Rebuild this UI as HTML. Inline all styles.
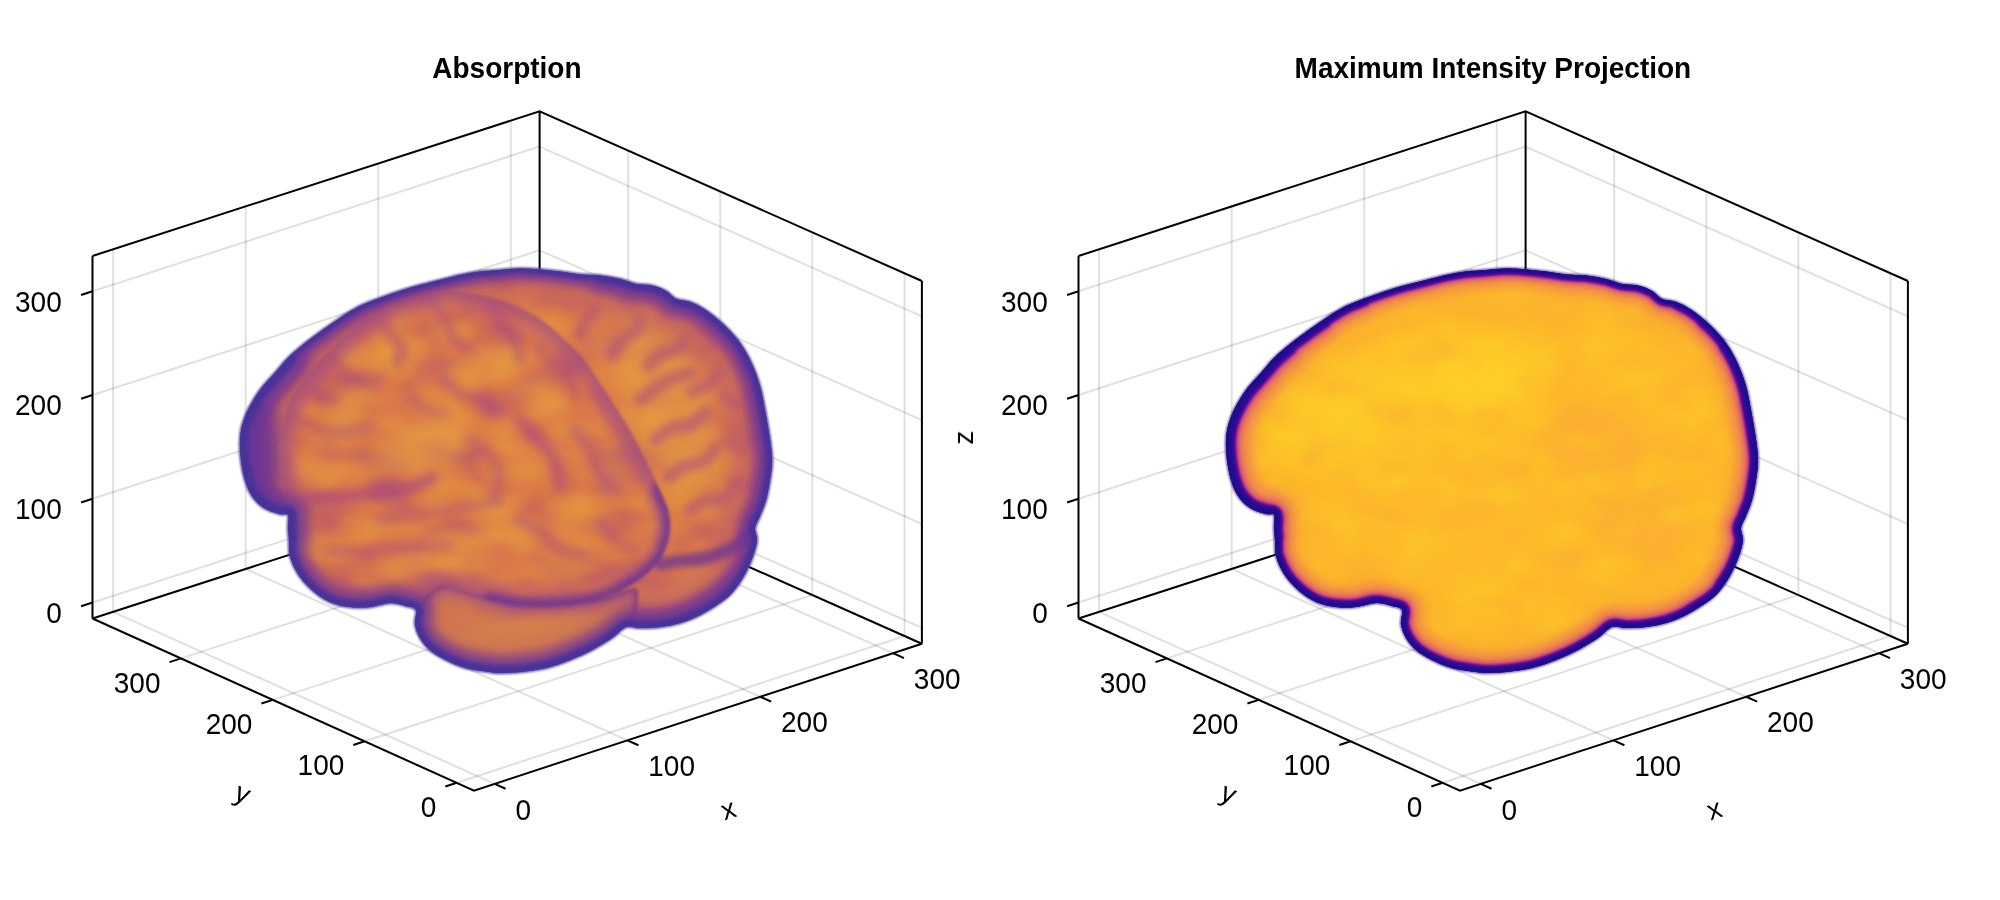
<!DOCTYPE html>
<html><head><meta charset="utf-8"><title>Volume</title>
<style>
html,body{margin:0;padding:0;background:#fff}
svg{display:block}
.g{stroke:#000;stroke-opacity:.12;stroke-width:2;fill:none}
.s{stroke:#000;stroke-width:2;fill:none;stroke-linejoin:miter;stroke-linecap:butt}
.t{stroke:#000;stroke-width:2;fill:none}
text{font-family:"Liberation Sans",sans-serif;fill:#000}
.l{font-size:28px}
.ti{font-size:28px;font-weight:bold}
</style></head><body>
<svg width="2000" height="900" viewBox="0 0 2000 900">
<rect width="2000" height="900" fill="#fff"/>
<defs>
<path id="sil" d="M500.00,270.00 C506.67,269.50 513.33,268.70 520.00,268.60 C526.67,268.50 533.33,268.90 540.00,269.40 C546.67,269.90 553.33,270.77 560.00,271.60 C566.67,272.43 573.33,273.73 580.00,274.40 C586.67,275.07 593.33,274.83 600.00,275.60 C606.67,276.37 614.00,277.60 620.00,279.00 C626.00,280.40 630.67,282.90 636.00,284.00 C641.33,285.10 647.00,284.43 652.00,285.60 C657.00,286.77 662.00,288.77 666.00,291.00 C670.00,293.23 672.00,297.17 676.00,299.00 C680.00,300.83 685.33,300.33 690.00,302.00 C694.67,303.67 699.67,306.33 704.00,309.00 C708.33,311.67 712.00,314.67 716.00,318.00 C720.00,321.33 724.00,324.83 728.00,329.00 C732.00,333.17 736.50,338.17 740.00,343.00 C743.50,347.83 746.33,352.83 749.00,358.00 C751.67,363.17 754.00,368.67 756.00,374.00 C758.00,379.33 759.50,384.00 761.00,390.00 C762.50,396.00 763.75,403.33 765.00,410.00 C766.25,416.67 767.50,423.83 768.50,430.00 C769.50,436.17 770.42,441.50 771.00,447.00 C771.58,452.50 772.17,457.50 772.00,463.00 C771.83,468.50 771.00,473.83 770.00,480.00 C769.00,486.17 767.67,494.00 766.00,500.00 C764.33,506.00 761.83,511.33 760.00,516.00 C758.17,520.67 755.50,524.00 755.00,528.00 C754.50,532.00 757.33,535.33 757.00,540.00 C756.67,544.67 754.83,550.67 753.00,556.00 C751.17,561.33 748.83,566.67 746.00,572.00 C743.17,577.33 739.67,583.33 736.00,588.00 C732.33,592.67 730.00,595.50 724.00,600.00 C718.00,604.50 707.33,611.17 700.00,615.00 C692.67,618.83 686.67,621.00 680.00,623.00 C673.33,625.00 666.67,626.17 660.00,627.00 C653.33,627.83 645.67,628.00 640.00,628.00 C634.33,628.00 630.67,625.33 626.00,627.00 C621.33,628.67 617.67,634.17 612.00,638.00 C606.33,641.83 599.00,646.33 592.00,650.00 C585.00,653.67 577.67,657.00 570.00,660.00 C562.33,663.00 554.33,666.00 546.00,668.00 C537.67,670.00 527.67,671.17 520.00,672.00 C512.33,672.83 505.00,673.00 500.00,673.00 C495.00,673.00 495.67,672.83 490.00,672.00 C484.33,671.17 473.33,670.00 466.00,668.00 C458.67,666.00 452.00,663.00 446.00,660.00 C440.00,657.00 434.33,653.67 430.00,650.00 C425.67,646.33 422.50,642.33 420.00,638.00 C417.50,633.67 415.67,628.67 415.00,624.00 C414.33,619.33 417.50,613.00 416.00,610.00 C414.50,607.00 410.33,607.17 406.00,606.00 C401.67,604.83 396.00,602.83 390.00,603.00 C384.00,603.17 376.67,606.33 370.00,607.00 C363.33,607.67 356.67,607.83 350.00,607.00 C343.33,606.17 336.33,604.83 330.00,602.00 C323.67,599.17 317.33,594.67 312.00,590.00 C306.67,585.33 301.67,579.67 298.00,574.00 C294.33,568.33 291.50,561.67 290.00,556.00 C288.50,550.33 289.33,544.67 289.00,540.00 C288.67,535.33 288.17,532.17 288.00,528.00 C287.83,523.83 289.33,517.33 288.00,515.00 C286.67,512.67 284.00,515.17 280.00,514.00 C276.00,512.83 268.67,511.00 264.00,508.00 C259.33,505.00 255.17,500.67 252.00,496.00 C248.83,491.33 246.83,486.00 245.00,480.00 C243.17,474.00 241.83,466.33 241.00,460.00 C240.17,453.67 239.83,447.67 240.00,442.00 C240.17,436.33 240.50,431.67 242.00,426.00 C243.50,420.33 246.00,414.00 249.00,408.00 C252.00,402.00 255.83,395.67 260.00,390.00 C264.17,384.33 269.33,379.33 274.00,374.00 C278.67,368.67 283.00,363.00 288.00,358.00 C293.00,353.00 298.67,348.33 304.00,344.00 C309.33,339.67 314.00,336.33 320.00,332.00 C326.00,327.67 333.33,322.33 340.00,318.00 C346.67,313.67 353.33,309.33 360.00,306.00 C366.67,302.67 373.33,300.50 380.00,298.00 C386.67,295.50 393.33,293.17 400.00,291.00 C406.67,288.83 413.33,286.83 420.00,285.00 C426.67,283.17 433.33,281.67 440.00,280.00 C446.67,278.33 453.33,276.40 460.00,275.00 C466.67,273.60 473.33,272.43 480.00,271.60 C486.67,270.77 493.33,270.50 500.00,270.00 Z"/>
<clipPath id="clipsil"><use href="#sil"/></clipPath>

<filter id="b1" x="200" y="240" width="620" height="470" filterUnits="userSpaceOnUse"><feGaussianBlur stdDeviation="1"/></filter>
<filter id="b15" x="200" y="240" width="620" height="470" filterUnits="userSpaceOnUse"><feGaussianBlur stdDeviation="1.6"/></filter>
<filter id="b2" x="200" y="240" width="620" height="470" filterUnits="userSpaceOnUse"><feGaussianBlur stdDeviation="2.5"/></filter>
<filter id="b3" x="200" y="240" width="620" height="470" filterUnits="userSpaceOnUse"><feGaussianBlur stdDeviation="3.2"/></filter>
<filter id="b4" x="200" y="240" width="620" height="470" filterUnits="userSpaceOnUse"><feGaussianBlur stdDeviation="4"/></filter>
<filter id="b7" x="200" y="240" width="620" height="470" filterUnits="userSpaceOnUse"><feGaussianBlur stdDeviation="7"/></filter>
<filter id="tex" x="230" y="260" width="560" height="430" filterUnits="userSpaceOnUse" color-interpolation-filters="sRGB">
<feTurbulence type="fractalNoise" baseFrequency="0.017 0.027" numOctaves="2" seed="11" result="n"/>
<feColorMatrix in="n" type="matrix" values="0 0 0 0 0.92  0 0 0 0 0.66  0 0 0 0 0.23  2.6 0 0 0 -1.3" result="br"/>
<feColorMatrix in="n" type="matrix" values="0 0 0 0 0.64  0 0 0 0 0.26  0 0 0 0 0.50  -2.6 0 0 0 1.25" result="dk"/>
<feMerge result="m"><feMergeNode in="br"/><feMergeNode in="dk"/></feMerge>
<feComposite in="m" in2="SourceGraphic" operator="in"/>
</filter>
<filter id="b5" x="200" y="240" width="620" height="470" filterUnits="userSpaceOnUse"><feGaussianBlur stdDeviation="5"/></filter>
<filter id="b10" x="200" y="240" width="620" height="470" filterUnits="userSpaceOnUse"><feGaussianBlur stdDeviation="10"/></filter>
<path id="near" d="M284.00,420.00 C285.67,413.33 286.83,406.67 290.00,400.00 C293.17,393.33 297.67,387.00 303.00,380.00 C308.33,373.00 315.00,365.33 322.00,358.00 C329.00,350.67 337.00,343.00 345.00,336.00 C353.00,329.00 361.67,321.67 370.00,316.00 C378.33,310.33 386.67,305.67 395.00,302.00 C403.33,298.33 411.67,296.00 420.00,294.00 C428.33,292.00 435.83,290.00 445.00,290.00 C454.17,290.00 465.00,292.17 475.00,294.00 C485.00,295.83 496.17,298.00 505.00,301.00 C513.83,304.00 521.17,308.33 528.00,312.00 C534.83,315.67 539.83,318.33 546.00,323.00 C552.17,327.67 559.00,334.33 565.00,340.00 C571.00,345.67 576.17,349.83 582.00,357.00 C587.83,364.17 594.17,374.33 600.00,383.00 C605.83,391.67 611.83,400.83 617.00,409.00 C622.17,417.17 626.17,423.33 631.00,432.00 C635.83,440.67 641.17,451.33 646.00,461.00 C650.83,470.67 656.17,481.33 660.00,490.00 C663.83,498.67 667.33,505.83 669.00,513.00 C670.67,520.17 671.00,526.00 670.00,533.00 C669.00,540.00 666.50,548.50 663.00,555.00 C659.50,561.50 654.83,566.67 649.00,572.00 C643.17,577.33 636.17,582.33 628.00,587.00 C619.83,591.67 611.33,596.83 600.00,600.00 C588.67,603.17 573.33,605.00 560.00,606.00 C546.67,607.00 531.67,607.00 520.00,606.00 C508.33,605.00 499.67,602.50 490.00,600.00 C480.33,597.50 470.33,593.33 462.00,591.00 C453.67,588.67 446.17,585.17 440.00,586.00 C433.83,586.83 429.00,592.33 425.00,596.00 C421.00,599.67 419.17,606.33 416.00,608.00 C412.83,609.67 410.33,606.83 406.00,606.00 C401.67,605.17 396.00,602.83 390.00,603.00 C384.00,603.17 376.67,606.33 370.00,607.00 C363.33,607.67 356.67,607.83 350.00,607.00 C343.33,606.17 336.33,604.83 330.00,602.00 C323.67,599.17 317.33,594.67 312.00,590.00 C306.67,585.33 301.67,579.67 298.00,574.00 C294.33,568.33 291.50,561.67 290.00,556.00 C288.50,550.33 289.33,544.67 289.00,540.00 C288.67,535.33 288.17,532.17 288.00,528.00 C287.83,523.83 288.33,519.67 288.00,515.00 C287.67,510.33 287.17,505.83 286.00,500.00 C284.83,494.17 282.17,486.67 281.00,480.00 C279.83,473.33 279.17,466.67 279.00,460.00 C278.83,453.33 279.17,446.67 280.00,440.00 C280.83,433.33 282.33,426.67 284.00,420.00 Z"/>
<clipPath id="clipnear"><use href="#near"/></clipPath>
<path id="cere" d="M416.00,606.00 C411.83,612.67 414.33,618.67 415.00,624.00 C415.67,629.33 417.50,633.67 420.00,638.00 C422.50,642.33 425.67,646.33 430.00,650.00 C434.33,653.67 440.00,657.00 446.00,660.00 C452.00,663.00 458.67,666.00 466.00,668.00 C473.33,670.00 482.00,671.33 490.00,672.00 C498.00,672.67 505.67,672.50 514.00,672.00 C522.33,671.50 531.33,670.67 540.00,669.00 C548.67,667.33 557.67,664.83 566.00,662.00 C574.33,659.17 582.67,655.33 590.00,652.00 C597.33,648.67 604.33,645.33 610.00,642.00 C615.67,638.67 620.00,636.00 624.00,632.00 C628.00,628.00 631.67,623.00 634.00,618.00 C636.33,613.00 638.00,607.00 638.00,602.00 C638.00,597.00 640.33,588.67 634.00,588.00 C627.67,587.33 612.33,595.50 600.00,598.00 C587.67,600.50 573.33,602.17 560.00,603.00 C546.67,603.83 531.67,604.00 520.00,603.00 C508.33,602.00 499.67,599.50 490.00,597.00 C480.33,594.50 470.33,590.17 462.00,588.00 C453.67,585.83 447.67,581.00 440.00,584.00 C432.33,587.00 420.17,599.33 416.00,606.00 Z"/>
<clipPath id="clipcere"><use href="#cere"/></clipPath>

<filter id="texr" x="230" y="260" width="560" height="430" filterUnits="userSpaceOnUse" color-interpolation-filters="sRGB">
<feTurbulence type="fractalNoise" baseFrequency="0.02 0.03" numOctaves="2" seed="5" result="n"/>
<feColorMatrix in="n" type="matrix" values="0 0 0 0 0.99  0 0 0 0 0.83  0 0 0 0 0.15  2.4 0 0 0 -1.2" result="br"/>
<feColorMatrix in="n" type="matrix" values="0 0 0 0 0.975  0 0 0 0 0.65  0 0 0 0 0.21  -2.4 0 0 0 1.15" result="dk"/>
<feMerge result="m"><feMergeNode in="br"/><feMergeNode in="dk"/></feMerge>
<feComposite in="m" in2="SourceGraphic" operator="in"/>
</filter>

</defs>
<g id="axL">
<path class="g" d="M494.60,783.84 L113.07,611.85"/>
<path class="g" d="M113.07,611.85 L113.07,249.34"/>
<path class="g" d="M627.45,740.29 L245.68,568.94"/>
<path class="g" d="M245.68,568.94 L245.68,206.41"/>
<path class="g" d="M760.21,696.76 L378.20,526.07"/>
<path class="g" d="M378.20,526.07 L378.20,163.50"/>
<path class="g" d="M893.06,653.21 L510.81,483.17"/>
<path class="g" d="M510.81,483.17 L510.81,120.57"/>
<path class="g" d="M456.72,782.80 L904.58,636.05"/>
<path class="g" d="M904.58,636.05 L904.58,273.31"/>
<path class="g" d="M364.70,741.29 L812.37,595.07"/>
<path class="g" d="M812.37,595.07 L812.37,232.37"/>
<path class="g" d="M272.80,699.83 L720.27,554.14"/>
<path class="g" d="M720.27,554.14 L720.27,191.47"/>
<path class="g" d="M180.89,658.38 L628.18,513.22"/>
<path class="g" d="M628.18,513.22 L628.18,150.58"/>
<path class="g" d="M92.50,602.51 L539.60,457.86"/>
<path class="g" d="M921.90,627.75 L539.60,457.86"/>
<path class="g" d="M92.50,498.80 L539.60,354.12"/>
<path class="g" d="M921.90,523.97 L539.60,354.12"/>
<path class="g" d="M92.50,395.02 L539.60,250.31"/>
<path class="g" d="M921.90,420.11 L539.60,250.31"/>
<path class="g" d="M92.50,291.31 L539.60,146.57"/>
<path class="g" d="M921.90,316.33 L539.60,146.57"/>
<path class="s" d="M92.50,256.00 L539.60,111.25 L921.90,281.00 M539.60,111.25 L539.60,473.85 M92.50,618.50 L539.60,473.85 L921.90,643.75 M92.50,256.00 L92.50,618.50"/><path class="s" d="M921.90,281.00 L921.90,643.75"/>
</g>
<use href="#axL" x="986"/>
<g id="brainL">

<use href="#sil" fill="none" stroke="#6b5aa6" stroke-width="2.4" filter="url(#b1)" opacity=".5"/>
<g>
<g clip-path="url(#clipsil)">
<use href="#sil" fill="#dc7a49"/>
<use href="#sil" fill="#000" filter="url(#tex)" opacity=".5"/>
<g filter="url(#b10)">
<ellipse cx="662" cy="395" rx="42" ry="85" fill="#e69f40" opacity="0.55" transform="rotate(-18 662 395)"/>
<ellipse cx="700" cy="475" rx="34" ry="44" fill="#e29a40" opacity="0.4" transform="rotate(0 700 475)"/>
</g><g filter="url(#b7)">
<ellipse cx="600" cy="346" rx="14" ry="10" fill="#e69f40" opacity="0.34" transform="rotate(0 600 346)"/>
<ellipse cx="632" cy="372" rx="16" ry="12" fill="#e69f40" opacity="0.41" transform="rotate(0 632 372)"/>
<ellipse cx="638" cy="344" rx="12" ry="14" fill="#e69f40" opacity="0.34" transform="rotate(0 638 344)"/>
<ellipse cx="672" cy="362" rx="16" ry="12" fill="#e69f40" opacity="0.38" transform="rotate(0 672 362)"/>
<ellipse cx="660" cy="420" rx="14" ry="22" fill="#e69f40" opacity="0.34" transform="rotate(-10 660 420)"/>
<ellipse cx="700" cy="420" rx="14" ry="20" fill="#e69f40" opacity="0.3" transform="rotate(-10 700 420)"/>
<ellipse cx="690" cy="470" rx="16" ry="18" fill="#e69f40" opacity="0.3" transform="rotate(0 690 470)"/>
<ellipse cx="640" cy="318" rx="20" ry="8" fill="#e69f40" opacity="0.27" transform="rotate(20 640 318)"/>
</g><g filter="url(#b4)">
<path d="M580.00,334.00 C581.00,331.67 583.33,324.00 586.00,320.00 C588.67,316.00 594.33,311.67 596.00,310.00 " fill="none" stroke="#b04d7a" stroke-width="13" stroke-linecap="round" opacity="0.62"/>
<path d="M612.00,356.00 C613.33,353.50 616.00,345.17 620.00,341.00 C624.00,336.83 632.50,335.17 636.00,331.00 C639.50,326.83 640.17,318.50 641.00,316.00 " fill="none" stroke="#b04d7a" stroke-width="13" stroke-linecap="round" opacity="0.62"/>
<path d="M648.00,366.00 C650.00,364.17 655.33,357.83 660.00,355.00 C664.67,352.17 671.50,352.17 676.00,349.00 C680.50,345.83 685.17,338.17 687.00,336.00 " fill="none" stroke="#b04d7a" stroke-width="13" stroke-linecap="round" opacity="0.62"/>
<path d="M640.00,400.00 C642.67,398.00 650.83,391.50 656.00,388.00 C661.17,384.50 665.17,381.50 671.00,379.00 C676.83,376.50 687.67,374.00 691.00,373.00 " fill="none" stroke="#b04d7a" stroke-width="13" stroke-linecap="round" opacity="0.62"/>
<path d="M700.00,330.00 C702.00,331.67 710.00,338.33 712.00,340.00 " fill="none" stroke="#b04d7a" stroke-width="13" stroke-linecap="round" opacity="0.62"/>
<path d="M692.00,392.00 C695.00,390.50 705.17,386.67 710.00,383.00 C714.83,379.33 719.17,372.17 721.00,370.00 " fill="none" stroke="#b04d7a" stroke-width="13" stroke-linecap="round" opacity="0.62"/>
<path d="M655.00,440.00 C657.83,438.00 666.17,430.50 672.00,428.00 C677.83,425.50 684.33,427.67 690.00,425.00 C695.67,422.33 703.33,414.17 706.00,412.00 " fill="none" stroke="#b04d7a" stroke-width="13" stroke-linecap="round" opacity="0.62"/>
<path d="M668.00,478.00 C670.67,476.00 678.33,468.67 684.00,466.00 C689.67,463.33 696.67,465.00 702.00,462.00 C707.33,459.00 713.67,450.33 716.00,448.00 " fill="none" stroke="#b04d7a" stroke-width="13" stroke-linecap="round" opacity="0.62"/>
<path d="M725.00,395.00 C727.17,396.67 734.17,404.17 738.00,405.00 C741.83,405.83 746.33,400.83 748.00,400.00 " fill="none" stroke="#b04d7a" stroke-width="13" stroke-linecap="round" opacity="0.62"/>
<path d="M728.00,440.00 C730.33,441.00 738.00,446.00 742.00,446.00 C746.00,446.00 750.33,441.00 752.00,440.00 " fill="none" stroke="#b04d7a" stroke-width="13" stroke-linecap="round" opacity="0.62"/>
<path d="M690.00,510.00 C692.67,508.33 700.67,501.67 706.00,500.00 C711.33,498.33 717.33,502.00 722.00,500.00 C726.67,498.00 732.00,490.00 734.00,488.00 " fill="none" stroke="#b04d7a" stroke-width="13" stroke-linecap="round" opacity="0.62"/>
<path d="M735.00,480.00 C737.17,481.00 744.17,486.00 748.00,486.00 C751.83,486.00 756.33,481.00 758.00,480.00 " fill="none" stroke="#b04d7a" stroke-width="13" stroke-linecap="round" opacity="0.62"/>
<path d="M620.00,296.00 C621.67,297.50 628.33,303.50 630.00,305.00 " fill="none" stroke="#b04d7a" stroke-width="13" stroke-linecap="round" opacity="0.62"/>
<path d="M660.00,305.00 C661.33,306.83 666.67,314.17 668.00,316.00 " fill="none" stroke="#b04d7a" stroke-width="13" stroke-linecap="round" opacity="0.62"/>
</g>
<g filter="url(#b5)">
<ellipse cx="525" cy="632" rx="75" ry="14" fill="#e29a40" opacity="0.65" transform="rotate(-8 525 632)"/>
<ellipse cx="520" cy="655" rx="60" ry="8" fill="#dd8f45" opacity="0.4" transform="rotate(-6 520 655)"/>
<ellipse cx="700" cy="585" rx="38" ry="14" fill="#e29a40" opacity="0.6" transform="rotate(-25 700 585)"/>
</g>
<g filter="url(#b10)" opacity="0.68" fill="none" stroke="#c06064" stroke-linecap="round"><use href="#sil" stroke-width="60"/><path d="M289.00,540.00 C288.83,538.00 288.17,532.17 288.00,528.00 C287.83,523.83 289.33,517.33 288.00,515.00 C286.67,512.67 284.00,515.17 280.00,514.00 C276.00,512.83 268.67,511.00 264.00,508.00 C259.33,505.00 255.17,500.67 252.00,496.00 C248.83,491.33 246.83,486.00 245.00,480.00 C243.17,474.00 241.83,466.33 241.00,460.00 C240.17,453.67 239.83,447.67 240.00,442.00 C240.17,436.33 240.50,431.67 242.00,426.00 C243.50,420.33 246.00,414.00 249.00,408.00 C252.00,402.00 255.83,395.67 260.00,390.00 C264.17,384.33 269.33,379.33 274.00,374.00 C278.67,368.67 285.67,360.67 288.00,358.00 " stroke-width="96"/><path d="M600.00,275.60 C603.33,276.17 614.00,277.60 620.00,279.00 C626.00,280.40 630.67,282.90 636.00,284.00 C641.33,285.10 647.00,284.43 652.00,285.60 C657.00,286.77 662.00,288.77 666.00,291.00 C670.00,293.23 672.00,297.17 676.00,299.00 C680.00,300.83 685.33,300.33 690.00,302.00 C694.67,303.67 699.67,306.33 704.00,309.00 C708.33,311.67 712.00,314.67 716.00,318.00 C720.00,321.33 724.00,324.83 728.00,329.00 C732.00,333.17 736.50,338.17 740.00,343.00 C743.50,347.83 746.33,352.83 749.00,358.00 C751.67,363.17 754.00,368.67 756.00,374.00 C758.00,379.33 759.50,384.00 761.00,390.00 C762.50,396.00 763.75,403.33 765.00,410.00 C766.25,416.67 767.50,423.83 768.50,430.00 C769.50,436.17 770.42,441.50 771.00,447.00 C771.58,452.50 772.17,457.50 772.00,463.00 C771.83,468.50 771.00,473.83 770.00,480.00 C769.00,486.17 767.67,494.00 766.00,500.00 C764.33,506.00 761.83,511.33 760.00,516.00 C758.17,520.67 755.50,524.00 755.00,528.00 C754.50,532.00 757.33,535.33 757.00,540.00 C756.67,544.67 754.83,550.67 753.00,556.00 C751.17,561.33 748.83,566.67 746.00,572.00 C743.17,577.33 739.67,583.33 736.00,588.00 C732.33,592.67 726.00,598.00 724.00,600.00 " stroke-width="80"/><path d="M736.00,588.00 C734.00,590.00 730.00,595.50 724.00,600.00 C718.00,604.50 707.33,611.17 700.00,615.00 C692.67,618.83 686.67,621.00 680.00,623.00 C673.33,625.00 666.67,626.17 660.00,627.00 C653.33,627.83 645.67,628.00 640.00,628.00 C634.33,628.00 630.67,625.33 626.00,627.00 C621.33,628.67 617.67,634.17 612.00,638.00 C606.33,641.83 599.00,646.33 592.00,650.00 C585.00,653.67 577.67,657.00 570.00,660.00 C562.33,663.00 554.33,666.00 546.00,668.00 C537.67,670.00 527.67,671.17 520.00,672.00 C512.33,672.83 505.00,673.00 500.00,673.00 C495.00,673.00 495.67,672.83 490.00,672.00 C484.33,671.17 473.33,670.00 466.00,668.00 C458.67,666.00 452.00,663.00 446.00,660.00 C440.00,657.00 434.33,653.67 430.00,650.00 C425.67,646.33 422.50,642.33 420.00,638.00 C417.50,633.67 415.67,628.67 415.00,624.00 C414.33,619.33 417.50,613.00 416.00,610.00 C414.50,607.00 410.33,607.17 406.00,606.00 C401.67,604.83 396.00,602.83 390.00,603.00 C384.00,603.17 376.67,606.33 370.00,607.00 C363.33,607.67 356.67,607.83 350.00,607.00 C343.33,606.17 336.33,604.83 330.00,602.00 C323.67,599.17 317.33,594.67 312.00,590.00 C306.67,585.33 301.67,579.67 298.00,574.00 C294.33,568.33 291.50,561.67 290.00,556.00 C288.50,550.33 289.33,544.67 289.00,540.00 C288.67,535.33 288.17,530.00 288.00,528.00 " stroke-width="86"/></g><g filter="url(#b5)" opacity="0.85" fill="none" stroke="#8f3d8c" stroke-linecap="round"><use href="#sil" stroke-width="24"/><path d="M289.00,540.00 C288.83,538.00 288.17,532.17 288.00,528.00 C287.83,523.83 289.33,517.33 288.00,515.00 C286.67,512.67 284.00,515.17 280.00,514.00 C276.00,512.83 268.67,511.00 264.00,508.00 C259.33,505.00 255.17,500.67 252.00,496.00 C248.83,491.33 246.83,486.00 245.00,480.00 C243.17,474.00 241.83,466.33 241.00,460.00 C240.17,453.67 239.83,447.67 240.00,442.00 C240.17,436.33 240.50,431.67 242.00,426.00 C243.50,420.33 246.00,414.00 249.00,408.00 C252.00,402.00 255.83,395.67 260.00,390.00 C264.17,384.33 269.33,379.33 274.00,374.00 C278.67,368.67 285.67,360.67 288.00,358.00 " stroke-width="46"/><path d="M600.00,275.60 C603.33,276.17 614.00,277.60 620.00,279.00 C626.00,280.40 630.67,282.90 636.00,284.00 C641.33,285.10 647.00,284.43 652.00,285.60 C657.00,286.77 662.00,288.77 666.00,291.00 C670.00,293.23 672.00,297.17 676.00,299.00 C680.00,300.83 685.33,300.33 690.00,302.00 C694.67,303.67 699.67,306.33 704.00,309.00 C708.33,311.67 712.00,314.67 716.00,318.00 C720.00,321.33 724.00,324.83 728.00,329.00 C732.00,333.17 736.50,338.17 740.00,343.00 C743.50,347.83 746.33,352.83 749.00,358.00 C751.67,363.17 754.00,368.67 756.00,374.00 C758.00,379.33 759.50,384.00 761.00,390.00 C762.50,396.00 763.75,403.33 765.00,410.00 C766.25,416.67 767.50,423.83 768.50,430.00 C769.50,436.17 770.42,441.50 771.00,447.00 C771.58,452.50 772.17,457.50 772.00,463.00 C771.83,468.50 771.00,473.83 770.00,480.00 C769.00,486.17 767.67,494.00 766.00,500.00 C764.33,506.00 761.83,511.33 760.00,516.00 C758.17,520.67 755.50,524.00 755.00,528.00 C754.50,532.00 757.33,535.33 757.00,540.00 C756.67,544.67 754.83,550.67 753.00,556.00 C751.17,561.33 748.83,566.67 746.00,572.00 C743.17,577.33 739.67,583.33 736.00,588.00 C732.33,592.67 726.00,598.00 724.00,600.00 " stroke-width="36"/><path d="M736.00,588.00 C734.00,590.00 730.00,595.50 724.00,600.00 C718.00,604.50 707.33,611.17 700.00,615.00 C692.67,618.83 686.67,621.00 680.00,623.00 C673.33,625.00 666.67,626.17 660.00,627.00 C653.33,627.83 645.67,628.00 640.00,628.00 C634.33,628.00 630.67,625.33 626.00,627.00 C621.33,628.67 617.67,634.17 612.00,638.00 C606.33,641.83 599.00,646.33 592.00,650.00 C585.00,653.67 577.67,657.00 570.00,660.00 C562.33,663.00 554.33,666.00 546.00,668.00 C537.67,670.00 527.67,671.17 520.00,672.00 C512.33,672.83 505.00,673.00 500.00,673.00 C495.00,673.00 495.67,672.83 490.00,672.00 C484.33,671.17 473.33,670.00 466.00,668.00 C458.67,666.00 452.00,663.00 446.00,660.00 C440.00,657.00 434.33,653.67 430.00,650.00 C425.67,646.33 422.50,642.33 420.00,638.00 C417.50,633.67 415.67,628.67 415.00,624.00 C414.33,619.33 417.50,613.00 416.00,610.00 C414.50,607.00 410.33,607.17 406.00,606.00 C401.67,604.83 396.00,602.83 390.00,603.00 C384.00,603.17 376.67,606.33 370.00,607.00 C363.33,607.67 356.67,607.83 350.00,607.00 C343.33,606.17 336.33,604.83 330.00,602.00 C323.67,599.17 317.33,594.67 312.00,590.00 C306.67,585.33 301.67,579.67 298.00,574.00 C294.33,568.33 291.50,561.67 290.00,556.00 C288.50,550.33 289.33,544.67 289.00,540.00 C288.67,535.33 288.17,530.00 288.00,528.00 " stroke-width="40"/></g>
<g filter="url(#b10)"><ellipse cx="256" cy="455" rx="26" ry="62" fill="#6f3596" opacity=".9"/>
<ellipse cx="330" cy="330" rx="70" ry="16" fill="#8a4090" opacity=".35" transform="rotate(-35 330 330)"/></g>
<path d="M762.00,520.00 C760.00,522.33 754.50,529.67 750.00,534.00 C745.50,538.33 740.33,542.67 735.00,546.00 C729.67,549.33 723.83,551.83 718.00,554.00 C712.17,556.17 706.33,557.83 700.00,559.00 C693.67,560.17 686.67,560.17 680.00,561.00 C673.33,561.83 663.33,563.50 660.00,564.00 " fill="none" stroke="#6a3296" stroke-width="13" opacity=".75" filter="url(#b3)" stroke-linecap="round"/>
<g filter="url(#b15)"><g clip-path="url(#clipcere)" opacity=".9">
<use href="#cere" fill="#d4824c" opacity=".55"/>
<use href="#cere" fill="none" stroke="#a04888" stroke-width="24" filter="url(#b5)" opacity=".6"/>
<use href="#cere" fill="none" stroke="#5a2c92" stroke-width="9" filter="url(#b2)" opacity=".55"/>
</g></g>
<g filter="url(#b15)"><g clip-path="url(#clipnear)">
<use href="#near" fill="#d9774b" opacity=".45"/>
<use href="#near" fill="#000" filter="url(#tex)" opacity=".5"/>
<g filter="url(#b7)">
<ellipse cx="425" cy="448" rx="44" ry="24" fill="#e69f40" opacity="0.58" transform="rotate(-15 425 448)"/>
<ellipse cx="480" cy="368" rx="40" ry="18" fill="#e69f40" opacity="0.47" transform="rotate(-20 480 368)"/>
<ellipse cx="352" cy="402" rx="30" ry="14" fill="#e69f40" opacity="0.43" transform="rotate(-30 352 402)"/>
<ellipse cx="400" cy="360" rx="28" ry="12" fill="#e69f40" opacity="0.39" transform="rotate(-25 400 360)"/>
<ellipse cx="540" cy="395" rx="28" ry="16" fill="#e69f40" opacity="0.39" transform="rotate(20 540 395)"/>
<ellipse cx="350" cy="470" rx="40" ry="12" fill="#e69f40" opacity="0.35" transform="rotate(-8 350 470)"/>
<ellipse cx="470" cy="540" rx="70" ry="9" fill="#e69f40" opacity="0.51" transform="rotate(-8 470 540)"/>
<ellipse cx="430" cy="565" rx="55" ry="8" fill="#e69f40" opacity="0.43" transform="rotate(-5 430 565)"/>
<ellipse cx="580" cy="520" rx="30" ry="22" fill="#e69f40" opacity="0.35" transform="rotate(0 580 520)"/>
<ellipse cx="560" cy="570" rx="40" ry="12" fill="#e69f40" opacity="0.35" transform="rotate(-10 560 570)"/>
<ellipse cx="520" cy="470" rx="22" ry="14" fill="#e69f40" opacity="0.35" transform="rotate(0 520 470)"/>
<ellipse cx="610" cy="470" rx="18" ry="30" fill="#e69f40" opacity="0.31" transform="rotate(-15 610 470)"/>
<ellipse cx="450" cy="330" rx="26" ry="10" fill="#e69f40" opacity="0.31" transform="rotate(-15 450 330)"/>
<ellipse cx="330" cy="440" rx="26" ry="12" fill="#e69f40" opacity="0.31" transform="rotate(-10 330 440)"/>
<ellipse cx="500" cy="430" rx="22" ry="12" fill="#e69f40" opacity="0.31" transform="rotate(10 500 430)"/>
<ellipse cx="380" cy="530" rx="40" ry="8" fill="#e69f40" opacity="0.31" transform="rotate(-6 380 530)"/>
</g><g filter="url(#b4)">
<path d="M288.00,502.00 C291.67,501.67 302.17,500.83 310.00,500.00 C317.83,499.17 326.67,497.83 335.00,497.00 C343.33,496.17 351.67,495.67 360.00,495.00 C368.33,494.33 376.67,494.17 385.00,493.00 C393.33,491.83 402.17,490.50 410.00,488.00 C417.83,485.50 428.33,479.67 432.00,478.00 " fill="none" stroke="#b04d7a" stroke-width="13" stroke-linecap="round" opacity="0.75"/>
<path d="M378.00,318.00 C380.33,320.83 388.00,330.00 392.00,335.00 C396.00,340.00 401.00,343.50 402.00,348.00 C403.00,352.50 398.67,359.67 398.00,362.00 " fill="none" stroke="#b04d7a" stroke-width="12" stroke-linecap="round" opacity="0.55"/>
<path d="M330.00,355.00 C332.50,357.83 339.67,367.83 345.00,372.00 C350.33,376.17 356.17,379.00 362.00,380.00 C367.83,381.00 377.00,378.33 380.00,378.00 " fill="none" stroke="#b04d7a" stroke-width="12" stroke-linecap="round" opacity="0.5"/>
<path d="M430.00,300.00 C432.50,303.33 440.83,313.33 445.00,320.00 C449.17,326.67 450.83,335.00 455.00,340.00 C459.17,345.00 467.50,348.33 470.00,350.00 " fill="none" stroke="#b04d7a" stroke-width="12" stroke-linecap="round" opacity="0.5"/>
<path d="M490.00,305.00 C491.67,308.33 495.83,319.17 500.00,325.00 C504.17,330.83 511.67,334.17 515.00,340.00 C518.33,345.83 519.17,356.67 520.00,360.00 " fill="none" stroke="#b04d7a" stroke-width="12" stroke-linecap="round" opacity="0.5"/>
<path d="M445.00,380.00 C447.83,382.50 456.17,392.00 462.00,395.00 C467.83,398.00 474.00,395.50 480.00,398.00 C486.00,400.50 495.00,408.00 498.00,410.00 " fill="none" stroke="#b04d7a" stroke-width="12" stroke-linecap="round" opacity="0.5"/>
<path d="M300.00,420.00 C303.33,421.67 312.50,428.00 320.00,430.00 C327.50,432.00 336.33,432.83 345.00,432.00 C353.67,431.17 367.50,426.17 372.00,425.00 " fill="none" stroke="#b04d7a" stroke-width="12" stroke-linecap="round" opacity="0.45"/>
<path d="M540.00,345.00 C542.00,348.33 547.00,360.00 552.00,365.00 C557.00,370.00 566.17,370.00 570.00,375.00 C573.83,380.00 574.17,391.67 575.00,395.00 " fill="none" stroke="#b04d7a" stroke-width="12" stroke-linecap="round" opacity="0.45"/>
<path d="M520.00,420.00 C523.33,423.33 534.17,433.00 540.00,440.00 C545.83,447.00 551.67,454.50 555.00,462.00 C558.33,469.50 559.17,481.17 560.00,485.00 " fill="none" stroke="#b04d7a" stroke-width="15" stroke-linecap="round" opacity="0.6"/>
<path d="M575.00,430.00 C577.50,433.33 585.83,442.50 590.00,450.00 C594.17,457.50 595.83,468.33 600.00,475.00 C604.17,481.67 612.50,487.50 615.00,490.00 " fill="none" stroke="#b04d7a" stroke-width="12" stroke-linecap="round" opacity="0.5"/>
<path d="M470.00,440.00 C473.33,442.50 485.00,449.17 490.00,455.00 C495.00,460.83 499.17,468.33 500.00,475.00 C500.83,481.67 495.83,491.67 495.00,495.00 " fill="none" stroke="#b04d7a" stroke-width="12" stroke-linecap="round" opacity="0.45"/>
<path d="M380.00,520.00 C386.67,519.17 406.67,517.00 420.00,515.00 C433.33,513.00 446.67,510.17 460.00,508.00 C473.33,505.83 493.33,503.00 500.00,502.00 " fill="none" stroke="#b04d7a" stroke-width="11" stroke-linecap="round" opacity="0.45"/>
<path d="M330.00,550.00 C336.67,550.33 356.67,552.33 370.00,552.00 C383.33,551.67 396.67,549.17 410.00,548.00 C423.33,546.83 443.33,545.50 450.00,545.00 " fill="none" stroke="#b04d7a" stroke-width="10" stroke-linecap="round" opacity="0.45"/>
<path d="M520.00,520.00 C524.17,522.50 538.33,530.00 545.00,535.00 C551.67,540.00 553.33,546.67 560.00,550.00 C566.67,553.33 580.83,554.17 585.00,555.00 " fill="none" stroke="#b04d7a" stroke-width="12" stroke-linecap="round" opacity="0.45"/>
<path d="M600.00,520.00 C602.50,523.33 609.17,535.00 615.00,540.00 C620.83,545.00 631.67,548.33 635.00,550.00 " fill="none" stroke="#b04d7a" stroke-width="12" stroke-linecap="round" opacity="0.45"/>
<path d="M340.00,580.00 C342.50,581.67 349.17,588.00 355.00,590.00 C360.83,592.00 371.67,591.67 375.00,592.00 " fill="none" stroke="#b04d7a" stroke-width="12" stroke-linecap="round" opacity="0.5"/>
<path d="M470.00,575.00 C475.00,576.67 490.00,583.33 500.00,585.00 C510.00,586.67 525.00,585.00 530.00,585.00 " fill="none" stroke="#b04d7a" stroke-width="10" stroke-linecap="round" opacity="0.4"/>
<path d="M310.00,385.00 C312.00,387.17 317.83,395.50 322.00,398.00 C326.17,400.50 332.83,399.67 335.00,400.00 " fill="none" stroke="#b04d7a" stroke-width="11" stroke-linecap="round" opacity="0.45"/>
<path d="M410.00,395.00 C412.50,397.50 419.17,407.17 425.00,410.00 C430.83,412.83 441.67,411.67 445.00,412.00 " fill="none" stroke="#b04d7a" stroke-width="11" stroke-linecap="round" opacity="0.4"/>
<path d="M600.00,400.00 C602.00,403.33 607.83,414.17 612.00,420.00 C616.17,425.83 622.83,432.50 625.00,435.00 " fill="none" stroke="#b04d7a" stroke-width="11" stroke-linecap="round" opacity="0.4"/>
</g>
<use href="#near" fill="none" stroke="#b4547c" stroke-width="32" filter="url(#b5)" opacity=".6"/>
<use href="#near" fill="none" stroke="#7e3a8e" stroke-width="13" filter="url(#b4)" opacity=".3"/>
<path d="M660.00,490.00 C661.50,493.83 667.33,505.83 669.00,513.00 C670.67,520.17 671.00,526.00 670.00,533.00 C669.00,540.00 666.50,548.50 663.00,555.00 C659.50,561.50 654.83,566.67 649.00,572.00 C643.17,577.33 636.17,582.33 628.00,587.00 C619.83,591.67 611.33,596.83 600.00,600.00 C588.67,603.17 573.33,605.00 560.00,606.00 C546.67,607.00 531.67,607.00 520.00,606.00 C508.33,605.00 495.00,601.00 490.00,600.00 " fill="none" stroke="#5f2f98" stroke-width="17" filter="url(#b3)" opacity=".65" stroke-linecap="round"/>
</g></g>
<g filter="url(#b4)" opacity="0.6" fill="none" stroke="#6a3894" stroke-linecap="round"><use href="#sil" stroke-width="18"/><path d="M289.00,540.00 C288.83,538.00 288.17,532.17 288.00,528.00 C287.83,523.83 289.33,517.33 288.00,515.00 C286.67,512.67 284.00,515.17 280.00,514.00 C276.00,512.83 268.67,511.00 264.00,508.00 C259.33,505.00 255.17,500.67 252.00,496.00 C248.83,491.33 246.83,486.00 245.00,480.00 C243.17,474.00 241.83,466.33 241.00,460.00 C240.17,453.67 239.83,447.67 240.00,442.00 C240.17,436.33 240.50,431.67 242.00,426.00 C243.50,420.33 246.00,414.00 249.00,408.00 C252.00,402.00 255.83,395.67 260.00,390.00 C264.17,384.33 269.33,379.33 274.00,374.00 C278.67,368.67 285.67,360.67 288.00,358.00 " stroke-width="38"/><path d="M600.00,275.60 C603.33,276.17 614.00,277.60 620.00,279.00 C626.00,280.40 630.67,282.90 636.00,284.00 C641.33,285.10 647.00,284.43 652.00,285.60 C657.00,286.77 662.00,288.77 666.00,291.00 C670.00,293.23 672.00,297.17 676.00,299.00 C680.00,300.83 685.33,300.33 690.00,302.00 C694.67,303.67 699.67,306.33 704.00,309.00 C708.33,311.67 712.00,314.67 716.00,318.00 C720.00,321.33 724.00,324.83 728.00,329.00 C732.00,333.17 736.50,338.17 740.00,343.00 C743.50,347.83 746.33,352.83 749.00,358.00 C751.67,363.17 754.00,368.67 756.00,374.00 C758.00,379.33 759.50,384.00 761.00,390.00 C762.50,396.00 763.75,403.33 765.00,410.00 C766.25,416.67 767.50,423.83 768.50,430.00 C769.50,436.17 770.42,441.50 771.00,447.00 C771.58,452.50 772.17,457.50 772.00,463.00 C771.83,468.50 771.00,473.83 770.00,480.00 C769.00,486.17 767.67,494.00 766.00,500.00 C764.33,506.00 761.83,511.33 760.00,516.00 C758.17,520.67 755.50,524.00 755.00,528.00 C754.50,532.00 757.33,535.33 757.00,540.00 C756.67,544.67 754.83,550.67 753.00,556.00 C751.17,561.33 748.83,566.67 746.00,572.00 C743.17,577.33 739.67,583.33 736.00,588.00 C732.33,592.67 726.00,598.00 724.00,600.00 " stroke-width="28"/><path d="M736.00,588.00 C734.00,590.00 730.00,595.50 724.00,600.00 C718.00,604.50 707.33,611.17 700.00,615.00 C692.67,618.83 686.67,621.00 680.00,623.00 C673.33,625.00 666.67,626.17 660.00,627.00 C653.33,627.83 645.67,628.00 640.00,628.00 C634.33,628.00 630.67,625.33 626.00,627.00 C621.33,628.67 617.67,634.17 612.00,638.00 C606.33,641.83 599.00,646.33 592.00,650.00 C585.00,653.67 577.67,657.00 570.00,660.00 C562.33,663.00 554.33,666.00 546.00,668.00 C537.67,670.00 527.67,671.17 520.00,672.00 C512.33,672.83 505.00,673.00 500.00,673.00 C495.00,673.00 495.67,672.83 490.00,672.00 C484.33,671.17 473.33,670.00 466.00,668.00 C458.67,666.00 452.00,663.00 446.00,660.00 C440.00,657.00 434.33,653.67 430.00,650.00 C425.67,646.33 422.50,642.33 420.00,638.00 C417.50,633.67 415.67,628.67 415.00,624.00 C414.33,619.33 417.50,613.00 416.00,610.00 C414.50,607.00 410.33,607.17 406.00,606.00 C401.67,604.83 396.00,602.83 390.00,603.00 C384.00,603.17 376.67,606.33 370.00,607.00 C363.33,607.67 356.67,607.83 350.00,607.00 C343.33,606.17 336.33,604.83 330.00,602.00 C323.67,599.17 317.33,594.67 312.00,590.00 C306.67,585.33 301.67,579.67 298.00,574.00 C294.33,568.33 291.50,561.67 290.00,556.00 C288.50,550.33 289.33,544.67 289.00,540.00 C288.67,535.33 288.17,530.00 288.00,528.00 " stroke-width="32"/></g><g filter="url(#b2)" opacity="1" fill="none" stroke="#47339a" stroke-linecap="round"><use href="#sil" stroke-width="9.5"/><path d="M289.00,540.00 C288.83,538.00 288.17,532.17 288.00,528.00 C287.83,523.83 289.33,517.33 288.00,515.00 C286.67,512.67 284.00,515.17 280.00,514.00 C276.00,512.83 268.67,511.00 264.00,508.00 C259.33,505.00 255.17,500.67 252.00,496.00 C248.83,491.33 246.83,486.00 245.00,480.00 C243.17,474.00 241.83,466.33 241.00,460.00 C240.17,453.67 239.83,447.67 240.00,442.00 C240.17,436.33 240.50,431.67 242.00,426.00 C243.50,420.33 246.00,414.00 249.00,408.00 C252.00,402.00 255.83,395.67 260.00,390.00 C264.17,384.33 269.33,379.33 274.00,374.00 C278.67,368.67 285.67,360.67 288.00,358.00 " stroke-width="18"/><path d="M600.00,275.60 C603.33,276.17 614.00,277.60 620.00,279.00 C626.00,280.40 630.67,282.90 636.00,284.00 C641.33,285.10 647.00,284.43 652.00,285.60 C657.00,286.77 662.00,288.77 666.00,291.00 C670.00,293.23 672.00,297.17 676.00,299.00 C680.00,300.83 685.33,300.33 690.00,302.00 C694.67,303.67 699.67,306.33 704.00,309.00 C708.33,311.67 712.00,314.67 716.00,318.00 C720.00,321.33 724.00,324.83 728.00,329.00 C732.00,333.17 736.50,338.17 740.00,343.00 C743.50,347.83 746.33,352.83 749.00,358.00 C751.67,363.17 754.00,368.67 756.00,374.00 C758.00,379.33 759.50,384.00 761.00,390.00 C762.50,396.00 763.75,403.33 765.00,410.00 C766.25,416.67 767.50,423.83 768.50,430.00 C769.50,436.17 770.42,441.50 771.00,447.00 C771.58,452.50 772.17,457.50 772.00,463.00 C771.83,468.50 771.00,473.83 770.00,480.00 C769.00,486.17 767.67,494.00 766.00,500.00 C764.33,506.00 761.83,511.33 760.00,516.00 C758.17,520.67 755.50,524.00 755.00,528.00 C754.50,532.00 757.33,535.33 757.00,540.00 C756.67,544.67 754.83,550.67 753.00,556.00 C751.17,561.33 748.83,566.67 746.00,572.00 C743.17,577.33 739.67,583.33 736.00,588.00 C732.33,592.67 726.00,598.00 724.00,600.00 " stroke-width="14"/><path d="M736.00,588.00 C734.00,590.00 730.00,595.50 724.00,600.00 C718.00,604.50 707.33,611.17 700.00,615.00 C692.67,618.83 686.67,621.00 680.00,623.00 C673.33,625.00 666.67,626.17 660.00,627.00 C653.33,627.83 645.67,628.00 640.00,628.00 C634.33,628.00 630.67,625.33 626.00,627.00 C621.33,628.67 617.67,634.17 612.00,638.00 C606.33,641.83 599.00,646.33 592.00,650.00 C585.00,653.67 577.67,657.00 570.00,660.00 C562.33,663.00 554.33,666.00 546.00,668.00 C537.67,670.00 527.67,671.17 520.00,672.00 C512.33,672.83 505.00,673.00 500.00,673.00 C495.00,673.00 495.67,672.83 490.00,672.00 C484.33,671.17 473.33,670.00 466.00,668.00 C458.67,666.00 452.00,663.00 446.00,660.00 C440.00,657.00 434.33,653.67 430.00,650.00 C425.67,646.33 422.50,642.33 420.00,638.00 C417.50,633.67 415.67,628.67 415.00,624.00 C414.33,619.33 417.50,613.00 416.00,610.00 C414.50,607.00 410.33,607.17 406.00,606.00 C401.67,604.83 396.00,602.83 390.00,603.00 C384.00,603.17 376.67,606.33 370.00,607.00 C363.33,607.67 356.67,607.83 350.00,607.00 C343.33,606.17 336.33,604.83 330.00,602.00 C323.67,599.17 317.33,594.67 312.00,590.00 C306.67,585.33 301.67,579.67 298.00,574.00 C294.33,568.33 291.50,561.67 290.00,556.00 C288.50,550.33 289.33,544.67 289.00,540.00 C288.67,535.33 288.17,530.00 288.00,528.00 " stroke-width="15"/></g>
</g>
<use href="#sil" fill="none" stroke="#4a379b" stroke-width="2" filter="url(#b1)" opacity=".85"/>
</g>

</g>
<g id="brainR" transform="translate(986,0)">

<g>
<g clip-path="url(#clipsil)">
<use href="#sil" fill="#fdbb2b"/>
<g filter="url(#b10)">
<ellipse cx="420" cy="395" rx="150" ry="55" fill="#fdcb27" opacity=".6" transform="rotate(-12 420 395)"/>
<ellipse cx="330" cy="430" rx="60" ry="45" fill="#fdcc28" opacity=".45"/>
<ellipse cx="500" cy="380" rx="50" ry="30" fill="#fdd426" opacity=".5"/>
<ellipse cx="610" cy="440" rx="50" ry="40" fill="#f9a636" opacity=".4"/>
<ellipse cx="660" cy="520" rx="50" ry="35" fill="#f9a636" opacity=".4"/>
<ellipse cx="520" cy="620" rx="70" ry="25" fill="#fdc02a" opacity=".4"/>
</g>
<use href="#sil" fill="#000" filter="url(#texr)" opacity=".5"/>
<use href="#sil" fill="none" stroke="#f9a636" stroke-width="80" filter="url(#b10)" opacity=".28"/>
<use href="#sil" fill="none" stroke="#f59a40" stroke-width="40" filter="url(#b5)" opacity=".75"/>
<g filter="url(#b5)" opacity="0.8" fill="none" stroke="#f08c4c"><use href="#sil" stroke-width="30"/><path d="M298.00,574.00 C296.67,571.00 291.50,561.67 290.00,556.00 C288.50,550.33 289.33,544.67 289.00,540.00 C288.67,535.33 288.17,532.17 288.00,528.00 C287.83,523.83 289.33,517.33 288.00,515.00 C286.67,512.67 284.00,515.17 280.00,514.00 C276.00,512.83 268.67,511.00 264.00,508.00 C259.33,505.00 255.17,500.67 252.00,496.00 C248.83,491.33 246.83,486.00 245.00,480.00 C243.17,474.00 241.83,466.33 241.00,460.00 C240.17,453.67 239.83,447.67 240.00,442.00 C240.17,436.33 240.50,431.67 242.00,426.00 C243.50,420.33 246.00,414.00 249.00,408.00 C252.00,402.00 255.83,395.67 260.00,390.00 C264.17,384.33 269.33,379.33 274.00,374.00 C278.67,368.67 283.00,363.00 288.00,358.00 C293.00,353.00 298.67,348.33 304.00,344.00 C309.33,339.67 314.00,336.33 320.00,332.00 C326.00,327.67 333.33,322.33 340.00,318.00 C346.67,313.67 353.33,309.33 360.00,306.00 C366.67,302.67 376.67,299.33 380.00,298.00 " stroke-width="37.26"/><path d="M289.00,540.00 C288.83,538.00 288.17,532.17 288.00,528.00 C287.83,523.83 289.33,517.33 288.00,515.00 C286.67,512.67 284.00,515.17 280.00,514.00 C276.00,512.83 268.67,511.00 264.00,508.00 C259.33,505.00 255.17,500.67 252.00,496.00 C248.83,491.33 246.83,486.00 245.00,480.00 C243.17,474.00 241.83,466.33 241.00,460.00 C240.17,453.67 239.83,447.67 240.00,442.00 C240.17,436.33 240.50,431.67 242.00,426.00 C243.50,420.33 246.00,414.00 249.00,408.00 C252.00,402.00 255.83,395.67 260.00,390.00 C264.17,384.33 269.33,379.33 274.00,374.00 C278.67,368.67 283.00,363.00 288.00,358.00 C293.00,353.00 298.67,348.33 304.00,344.00 C309.33,339.67 314.00,336.33 320.00,332.00 C326.00,327.67 336.67,320.33 340.00,318.00 " stroke-width="44.52"/><path d="M288.00,515.00 C286.67,514.83 284.00,515.17 280.00,514.00 C276.00,512.83 268.67,511.00 264.00,508.00 C259.33,505.00 255.17,500.67 252.00,496.00 C248.83,491.33 246.83,486.00 245.00,480.00 C243.17,474.00 241.83,466.33 241.00,460.00 C240.17,453.67 239.83,447.67 240.00,442.00 C240.17,436.33 240.50,431.67 242.00,426.00 C243.50,420.33 246.00,414.00 249.00,408.00 C252.00,402.00 255.83,395.67 260.00,390.00 C264.17,384.33 269.33,379.33 274.00,374.00 C278.67,368.67 283.00,363.00 288.00,358.00 C293.00,353.00 301.33,346.33 304.00,344.00 " stroke-width="52"/><path d="M690.00,302.00 C692.33,303.17 699.67,306.33 704.00,309.00 C708.33,311.67 712.00,314.67 716.00,318.00 C720.00,321.33 724.00,324.83 728.00,329.00 C732.00,333.17 736.50,338.17 740.00,343.00 C743.50,347.83 746.33,352.83 749.00,358.00 C751.67,363.17 754.00,368.67 756.00,374.00 C758.00,379.33 759.50,384.00 761.00,390.00 C762.50,396.00 763.75,403.33 765.00,410.00 C766.25,416.67 767.50,423.83 768.50,430.00 C769.50,436.17 770.42,441.50 771.00,447.00 C771.58,452.50 772.17,457.50 772.00,463.00 C771.83,468.50 771.00,473.83 770.00,480.00 C769.00,486.17 767.67,494.00 766.00,500.00 C764.33,506.00 761.83,511.33 760.00,516.00 C758.17,520.67 755.50,524.00 755.00,528.00 C754.50,532.00 757.33,535.33 757.00,540.00 C756.67,544.67 754.83,550.67 753.00,556.00 C751.17,561.33 748.83,566.67 746.00,572.00 C743.17,577.33 739.67,583.33 736.00,588.00 C732.33,592.67 730.00,595.50 724.00,600.00 C718.00,604.50 707.33,611.17 700.00,615.00 C692.67,618.83 686.67,621.00 680.00,623.00 C673.33,625.00 663.33,626.33 660.00,627.00 " stroke-width="34.62"/><path d="M716.00,318.00 C718.00,319.83 724.00,324.83 728.00,329.00 C732.00,333.17 736.50,338.17 740.00,343.00 C743.50,347.83 746.33,352.83 749.00,358.00 C751.67,363.17 754.00,368.67 756.00,374.00 C758.00,379.33 759.50,384.00 761.00,390.00 C762.50,396.00 763.75,403.33 765.00,410.00 C766.25,416.67 767.50,423.83 768.50,430.00 C769.50,436.17 770.42,441.50 771.00,447.00 C771.58,452.50 772.17,457.50 772.00,463.00 C771.83,468.50 771.00,473.83 770.00,480.00 C769.00,486.17 767.67,494.00 766.00,500.00 C764.33,506.00 761.83,511.33 760.00,516.00 C758.17,520.67 755.50,524.00 755.00,528.00 C754.50,532.00 757.33,535.33 757.00,540.00 C756.67,544.67 754.83,550.67 753.00,556.00 C751.17,561.33 748.83,566.67 746.00,572.00 C743.17,577.33 739.67,583.33 736.00,588.00 C732.33,592.67 730.00,595.50 724.00,600.00 C718.00,604.50 704.00,612.50 700.00,615.00 " stroke-width="39.24"/><path d="M740.00,343.00 C741.50,345.50 746.33,352.83 749.00,358.00 C751.67,363.17 754.00,368.67 756.00,374.00 C758.00,379.33 759.50,384.00 761.00,390.00 C762.50,396.00 763.75,403.33 765.00,410.00 C766.25,416.67 767.50,423.83 768.50,430.00 C769.50,436.17 770.42,441.50 771.00,447.00 C771.58,452.50 772.17,457.50 772.00,463.00 C771.83,468.50 771.00,473.83 770.00,480.00 C769.00,486.17 767.67,494.00 766.00,500.00 C764.33,506.00 761.83,511.33 760.00,516.00 C758.17,520.67 755.50,524.00 755.00,528.00 C754.50,532.00 757.33,535.33 757.00,540.00 C756.67,544.67 754.83,550.67 753.00,556.00 C751.17,561.33 748.83,566.67 746.00,572.00 C743.17,577.33 737.67,585.33 736.00,588.00 " stroke-width="44"/><path d="M757.00,540.00 C756.33,542.67 754.83,550.67 753.00,556.00 C751.17,561.33 748.83,566.67 746.00,572.00 C743.17,577.33 739.67,583.33 736.00,588.00 C732.33,592.67 730.00,595.50 724.00,600.00 C718.00,604.50 707.33,611.17 700.00,615.00 C692.67,618.83 686.67,621.00 680.00,623.00 C673.33,625.00 666.67,626.17 660.00,627.00 C653.33,627.83 645.67,628.00 640.00,628.00 C634.33,628.00 630.67,625.33 626.00,627.00 C621.33,628.67 617.67,634.17 612.00,638.00 C606.33,641.83 599.00,646.33 592.00,650.00 C585.00,653.67 577.67,657.00 570.00,660.00 C562.33,663.00 554.33,666.00 546.00,668.00 C537.67,670.00 527.67,671.17 520.00,672.00 C512.33,672.83 505.00,673.00 500.00,673.00 C495.00,673.00 495.67,672.83 490.00,672.00 C484.33,671.17 473.33,670.00 466.00,668.00 C458.67,666.00 452.00,663.00 446.00,660.00 C440.00,657.00 434.33,653.67 430.00,650.00 C425.67,646.33 422.50,642.33 420.00,638.00 C417.50,633.67 415.67,628.67 415.00,624.00 C414.33,619.33 417.50,613.00 416.00,610.00 C414.50,607.00 410.33,607.17 406.00,606.00 C401.67,604.83 396.00,602.83 390.00,603.00 C384.00,603.17 376.67,606.33 370.00,607.00 C363.33,607.67 356.67,607.83 350.00,607.00 C343.33,606.17 336.33,604.83 330.00,602.00 C323.67,599.17 317.33,594.67 312.00,590.00 C306.67,585.33 301.67,579.67 298.00,574.00 C294.33,568.33 291.50,561.67 290.00,556.00 C288.50,550.33 289.33,544.67 289.00,540.00 C288.67,535.33 288.17,532.17 288.00,528.00 C287.83,523.83 289.33,517.33 288.00,515.00 C286.67,512.67 284.00,515.17 280.00,514.00 C276.00,512.83 268.67,511.00 264.00,508.00 C259.33,505.00 254.00,498.00 252.00,496.00 " stroke-width="33.3"/><path d="M746.00,572.00 C744.33,574.67 739.67,583.33 736.00,588.00 C732.33,592.67 730.00,595.50 724.00,600.00 C718.00,604.50 707.33,611.17 700.00,615.00 C692.67,618.83 686.67,621.00 680.00,623.00 C673.33,625.00 666.67,626.17 660.00,627.00 C653.33,627.83 645.67,628.00 640.00,628.00 C634.33,628.00 630.67,625.33 626.00,627.00 C621.33,628.67 617.67,634.17 612.00,638.00 C606.33,641.83 599.00,646.33 592.00,650.00 C585.00,653.67 577.67,657.00 570.00,660.00 C562.33,663.00 554.33,666.00 546.00,668.00 C537.67,670.00 527.67,671.17 520.00,672.00 C512.33,672.83 505.00,673.00 500.00,673.00 C495.00,673.00 495.67,672.83 490.00,672.00 C484.33,671.17 473.33,670.00 466.00,668.00 C458.67,666.00 452.00,663.00 446.00,660.00 C440.00,657.00 434.33,653.67 430.00,650.00 C425.67,646.33 422.50,642.33 420.00,638.00 C417.50,633.67 415.67,628.67 415.00,624.00 C414.33,619.33 417.50,613.00 416.00,610.00 C414.50,607.00 410.33,607.17 406.00,606.00 C401.67,604.83 396.00,602.83 390.00,603.00 C384.00,603.17 376.67,606.33 370.00,607.00 C363.33,607.67 356.67,607.83 350.00,607.00 C343.33,606.17 336.33,604.83 330.00,602.00 C323.67,599.17 317.33,594.67 312.00,590.00 C306.67,585.33 301.67,579.67 298.00,574.00 C294.33,568.33 291.50,561.67 290.00,556.00 C288.50,550.33 289.33,544.67 289.00,540.00 C288.67,535.33 288.17,532.17 288.00,528.00 C287.83,523.83 289.33,517.33 288.00,515.00 C286.67,512.67 281.33,514.17 280.00,514.00 " stroke-width="36.6"/><path d="M724.00,600.00 C720.00,602.50 707.33,611.17 700.00,615.00 C692.67,618.83 686.67,621.00 680.00,623.00 C673.33,625.00 666.67,626.17 660.00,627.00 C653.33,627.83 645.67,628.00 640.00,628.00 C634.33,628.00 630.67,625.33 626.00,627.00 C621.33,628.67 617.67,634.17 612.00,638.00 C606.33,641.83 599.00,646.33 592.00,650.00 C585.00,653.67 577.67,657.00 570.00,660.00 C562.33,663.00 554.33,666.00 546.00,668.00 C537.67,670.00 527.67,671.17 520.00,672.00 C512.33,672.83 505.00,673.00 500.00,673.00 C495.00,673.00 495.67,672.83 490.00,672.00 C484.33,671.17 473.33,670.00 466.00,668.00 C458.67,666.00 452.00,663.00 446.00,660.00 C440.00,657.00 434.33,653.67 430.00,650.00 C425.67,646.33 422.50,642.33 420.00,638.00 C417.50,633.67 415.67,628.67 415.00,624.00 C414.33,619.33 417.50,613.00 416.00,610.00 C414.50,607.00 410.33,607.17 406.00,606.00 C401.67,604.83 396.00,602.83 390.00,603.00 C384.00,603.17 376.67,606.33 370.00,607.00 C363.33,607.67 356.67,607.83 350.00,607.00 C343.33,606.17 336.33,604.83 330.00,602.00 C323.67,599.17 317.33,594.67 312.00,590.00 C306.67,585.33 301.67,579.67 298.00,574.00 C294.33,568.33 291.50,561.67 290.00,556.00 C288.50,550.33 289.33,544.67 289.00,540.00 C288.67,535.33 288.17,530.00 288.00,528.00 " stroke-width="40"/></g><g filter="url(#b2)" opacity="0.9" fill="none" stroke="#ee7e58"><use href="#sil" stroke-width="22"/><path d="M298.00,574.00 C296.67,571.00 291.50,561.67 290.00,556.00 C288.50,550.33 289.33,544.67 289.00,540.00 C288.67,535.33 288.17,532.17 288.00,528.00 C287.83,523.83 289.33,517.33 288.00,515.00 C286.67,512.67 284.00,515.17 280.00,514.00 C276.00,512.83 268.67,511.00 264.00,508.00 C259.33,505.00 255.17,500.67 252.00,496.00 C248.83,491.33 246.83,486.00 245.00,480.00 C243.17,474.00 241.83,466.33 241.00,460.00 C240.17,453.67 239.83,447.67 240.00,442.00 C240.17,436.33 240.50,431.67 242.00,426.00 C243.50,420.33 246.00,414.00 249.00,408.00 C252.00,402.00 255.83,395.67 260.00,390.00 C264.17,384.33 269.33,379.33 274.00,374.00 C278.67,368.67 283.00,363.00 288.00,358.00 C293.00,353.00 298.67,348.33 304.00,344.00 C309.33,339.67 314.00,336.33 320.00,332.00 C326.00,327.67 333.33,322.33 340.00,318.00 C346.67,313.67 353.33,309.33 360.00,306.00 C366.67,302.67 376.67,299.33 380.00,298.00 " stroke-width="26.62"/><path d="M289.00,540.00 C288.83,538.00 288.17,532.17 288.00,528.00 C287.83,523.83 289.33,517.33 288.00,515.00 C286.67,512.67 284.00,515.17 280.00,514.00 C276.00,512.83 268.67,511.00 264.00,508.00 C259.33,505.00 255.17,500.67 252.00,496.00 C248.83,491.33 246.83,486.00 245.00,480.00 C243.17,474.00 241.83,466.33 241.00,460.00 C240.17,453.67 239.83,447.67 240.00,442.00 C240.17,436.33 240.50,431.67 242.00,426.00 C243.50,420.33 246.00,414.00 249.00,408.00 C252.00,402.00 255.83,395.67 260.00,390.00 C264.17,384.33 269.33,379.33 274.00,374.00 C278.67,368.67 283.00,363.00 288.00,358.00 C293.00,353.00 298.67,348.33 304.00,344.00 C309.33,339.67 314.00,336.33 320.00,332.00 C326.00,327.67 336.67,320.33 340.00,318.00 " stroke-width="31.24"/><path d="M288.00,515.00 C286.67,514.83 284.00,515.17 280.00,514.00 C276.00,512.83 268.67,511.00 264.00,508.00 C259.33,505.00 255.17,500.67 252.00,496.00 C248.83,491.33 246.83,486.00 245.00,480.00 C243.17,474.00 241.83,466.33 241.00,460.00 C240.17,453.67 239.83,447.67 240.00,442.00 C240.17,436.33 240.50,431.67 242.00,426.00 C243.50,420.33 246.00,414.00 249.00,408.00 C252.00,402.00 255.83,395.67 260.00,390.00 C264.17,384.33 269.33,379.33 274.00,374.00 C278.67,368.67 283.00,363.00 288.00,358.00 C293.00,353.00 301.33,346.33 304.00,344.00 " stroke-width="36"/><path d="M690.00,302.00 C692.33,303.17 699.67,306.33 704.00,309.00 C708.33,311.67 712.00,314.67 716.00,318.00 C720.00,321.33 724.00,324.83 728.00,329.00 C732.00,333.17 736.50,338.17 740.00,343.00 C743.50,347.83 746.33,352.83 749.00,358.00 C751.67,363.17 754.00,368.67 756.00,374.00 C758.00,379.33 759.50,384.00 761.00,390.00 C762.50,396.00 763.75,403.33 765.00,410.00 C766.25,416.67 767.50,423.83 768.50,430.00 C769.50,436.17 770.42,441.50 771.00,447.00 C771.58,452.50 772.17,457.50 772.00,463.00 C771.83,468.50 771.00,473.83 770.00,480.00 C769.00,486.17 767.67,494.00 766.00,500.00 C764.33,506.00 761.83,511.33 760.00,516.00 C758.17,520.67 755.50,524.00 755.00,528.00 C754.50,532.00 757.33,535.33 757.00,540.00 C756.67,544.67 754.83,550.67 753.00,556.00 C751.17,561.33 748.83,566.67 746.00,572.00 C743.17,577.33 739.67,583.33 736.00,588.00 C732.33,592.67 730.00,595.50 724.00,600.00 C718.00,604.50 707.33,611.17 700.00,615.00 C692.67,618.83 686.67,621.00 680.00,623.00 C673.33,625.00 663.33,626.33 660.00,627.00 " stroke-width="24.64"/><path d="M716.00,318.00 C718.00,319.83 724.00,324.83 728.00,329.00 C732.00,333.17 736.50,338.17 740.00,343.00 C743.50,347.83 746.33,352.83 749.00,358.00 C751.67,363.17 754.00,368.67 756.00,374.00 C758.00,379.33 759.50,384.00 761.00,390.00 C762.50,396.00 763.75,403.33 765.00,410.00 C766.25,416.67 767.50,423.83 768.50,430.00 C769.50,436.17 770.42,441.50 771.00,447.00 C771.58,452.50 772.17,457.50 772.00,463.00 C771.83,468.50 771.00,473.83 770.00,480.00 C769.00,486.17 767.67,494.00 766.00,500.00 C764.33,506.00 761.83,511.33 760.00,516.00 C758.17,520.67 755.50,524.00 755.00,528.00 C754.50,532.00 757.33,535.33 757.00,540.00 C756.67,544.67 754.83,550.67 753.00,556.00 C751.17,561.33 748.83,566.67 746.00,572.00 C743.17,577.33 739.67,583.33 736.00,588.00 C732.33,592.67 730.00,595.50 724.00,600.00 C718.00,604.50 704.00,612.50 700.00,615.00 " stroke-width="27.28"/><path d="M740.00,343.00 C741.50,345.50 746.33,352.83 749.00,358.00 C751.67,363.17 754.00,368.67 756.00,374.00 C758.00,379.33 759.50,384.00 761.00,390.00 C762.50,396.00 763.75,403.33 765.00,410.00 C766.25,416.67 767.50,423.83 768.50,430.00 C769.50,436.17 770.42,441.50 771.00,447.00 C771.58,452.50 772.17,457.50 772.00,463.00 C771.83,468.50 771.00,473.83 770.00,480.00 C769.00,486.17 767.67,494.00 766.00,500.00 C764.33,506.00 761.83,511.33 760.00,516.00 C758.17,520.67 755.50,524.00 755.00,528.00 C754.50,532.00 757.33,535.33 757.00,540.00 C756.67,544.67 754.83,550.67 753.00,556.00 C751.17,561.33 748.83,566.67 746.00,572.00 C743.17,577.33 737.67,585.33 736.00,588.00 " stroke-width="30"/><path d="M757.00,540.00 C756.33,542.67 754.83,550.67 753.00,556.00 C751.17,561.33 748.83,566.67 746.00,572.00 C743.17,577.33 739.67,583.33 736.00,588.00 C732.33,592.67 730.00,595.50 724.00,600.00 C718.00,604.50 707.33,611.17 700.00,615.00 C692.67,618.83 686.67,621.00 680.00,623.00 C673.33,625.00 666.67,626.17 660.00,627.00 C653.33,627.83 645.67,628.00 640.00,628.00 C634.33,628.00 630.67,625.33 626.00,627.00 C621.33,628.67 617.67,634.17 612.00,638.00 C606.33,641.83 599.00,646.33 592.00,650.00 C585.00,653.67 577.67,657.00 570.00,660.00 C562.33,663.00 554.33,666.00 546.00,668.00 C537.67,670.00 527.67,671.17 520.00,672.00 C512.33,672.83 505.00,673.00 500.00,673.00 C495.00,673.00 495.67,672.83 490.00,672.00 C484.33,671.17 473.33,670.00 466.00,668.00 C458.67,666.00 452.00,663.00 446.00,660.00 C440.00,657.00 434.33,653.67 430.00,650.00 C425.67,646.33 422.50,642.33 420.00,638.00 C417.50,633.67 415.67,628.67 415.00,624.00 C414.33,619.33 417.50,613.00 416.00,610.00 C414.50,607.00 410.33,607.17 406.00,606.00 C401.67,604.83 396.00,602.83 390.00,603.00 C384.00,603.17 376.67,606.33 370.00,607.00 C363.33,607.67 356.67,607.83 350.00,607.00 C343.33,606.17 336.33,604.83 330.00,602.00 C323.67,599.17 317.33,594.67 312.00,590.00 C306.67,585.33 301.67,579.67 298.00,574.00 C294.33,568.33 291.50,561.67 290.00,556.00 C288.50,550.33 289.33,544.67 289.00,540.00 C288.67,535.33 288.17,532.17 288.00,528.00 C287.83,523.83 289.33,517.33 288.00,515.00 C286.67,512.67 284.00,515.17 280.00,514.00 C276.00,512.83 268.67,511.00 264.00,508.00 C259.33,505.00 254.00,498.00 252.00,496.00 " stroke-width="23.98"/><path d="M746.00,572.00 C744.33,574.67 739.67,583.33 736.00,588.00 C732.33,592.67 730.00,595.50 724.00,600.00 C718.00,604.50 707.33,611.17 700.00,615.00 C692.67,618.83 686.67,621.00 680.00,623.00 C673.33,625.00 666.67,626.17 660.00,627.00 C653.33,627.83 645.67,628.00 640.00,628.00 C634.33,628.00 630.67,625.33 626.00,627.00 C621.33,628.67 617.67,634.17 612.00,638.00 C606.33,641.83 599.00,646.33 592.00,650.00 C585.00,653.67 577.67,657.00 570.00,660.00 C562.33,663.00 554.33,666.00 546.00,668.00 C537.67,670.00 527.67,671.17 520.00,672.00 C512.33,672.83 505.00,673.00 500.00,673.00 C495.00,673.00 495.67,672.83 490.00,672.00 C484.33,671.17 473.33,670.00 466.00,668.00 C458.67,666.00 452.00,663.00 446.00,660.00 C440.00,657.00 434.33,653.67 430.00,650.00 C425.67,646.33 422.50,642.33 420.00,638.00 C417.50,633.67 415.67,628.67 415.00,624.00 C414.33,619.33 417.50,613.00 416.00,610.00 C414.50,607.00 410.33,607.17 406.00,606.00 C401.67,604.83 396.00,602.83 390.00,603.00 C384.00,603.17 376.67,606.33 370.00,607.00 C363.33,607.67 356.67,607.83 350.00,607.00 C343.33,606.17 336.33,604.83 330.00,602.00 C323.67,599.17 317.33,594.67 312.00,590.00 C306.67,585.33 301.67,579.67 298.00,574.00 C294.33,568.33 291.50,561.67 290.00,556.00 C288.50,550.33 289.33,544.67 289.00,540.00 C288.67,535.33 288.17,532.17 288.00,528.00 C287.83,523.83 289.33,517.33 288.00,515.00 C286.67,512.67 281.33,514.17 280.00,514.00 " stroke-width="25.96"/><path d="M724.00,600.00 C720.00,602.50 707.33,611.17 700.00,615.00 C692.67,618.83 686.67,621.00 680.00,623.00 C673.33,625.00 666.67,626.17 660.00,627.00 C653.33,627.83 645.67,628.00 640.00,628.00 C634.33,628.00 630.67,625.33 626.00,627.00 C621.33,628.67 617.67,634.17 612.00,638.00 C606.33,641.83 599.00,646.33 592.00,650.00 C585.00,653.67 577.67,657.00 570.00,660.00 C562.33,663.00 554.33,666.00 546.00,668.00 C537.67,670.00 527.67,671.17 520.00,672.00 C512.33,672.83 505.00,673.00 500.00,673.00 C495.00,673.00 495.67,672.83 490.00,672.00 C484.33,671.17 473.33,670.00 466.00,668.00 C458.67,666.00 452.00,663.00 446.00,660.00 C440.00,657.00 434.33,653.67 430.00,650.00 C425.67,646.33 422.50,642.33 420.00,638.00 C417.50,633.67 415.67,628.67 415.00,624.00 C414.33,619.33 417.50,613.00 416.00,610.00 C414.50,607.00 410.33,607.17 406.00,606.00 C401.67,604.83 396.00,602.83 390.00,603.00 C384.00,603.17 376.67,606.33 370.00,607.00 C363.33,607.67 356.67,607.83 350.00,607.00 C343.33,606.17 336.33,604.83 330.00,602.00 C323.67,599.17 317.33,594.67 312.00,590.00 C306.67,585.33 301.67,579.67 298.00,574.00 C294.33,568.33 291.50,561.67 290.00,556.00 C288.50,550.33 289.33,544.67 289.00,540.00 C288.67,535.33 288.17,530.00 288.00,528.00 " stroke-width="28"/></g><g filter="url(#b2)" opacity="0.75" fill="none" stroke="#b83288"><use href="#sil" stroke-width="17"/><path d="M298.00,574.00 C296.67,571.00 291.50,561.67 290.00,556.00 C288.50,550.33 289.33,544.67 289.00,540.00 C288.67,535.33 288.17,532.17 288.00,528.00 C287.83,523.83 289.33,517.33 288.00,515.00 C286.67,512.67 284.00,515.17 280.00,514.00 C276.00,512.83 268.67,511.00 264.00,508.00 C259.33,505.00 255.17,500.67 252.00,496.00 C248.83,491.33 246.83,486.00 245.00,480.00 C243.17,474.00 241.83,466.33 241.00,460.00 C240.17,453.67 239.83,447.67 240.00,442.00 C240.17,436.33 240.50,431.67 242.00,426.00 C243.50,420.33 246.00,414.00 249.00,408.00 C252.00,402.00 255.83,395.67 260.00,390.00 C264.17,384.33 269.33,379.33 274.00,374.00 C278.67,368.67 283.00,363.00 288.00,358.00 C293.00,353.00 298.67,348.33 304.00,344.00 C309.33,339.67 314.00,336.33 320.00,332.00 C326.00,327.67 333.33,322.33 340.00,318.00 C346.67,313.67 353.33,309.33 360.00,306.00 C366.67,302.67 376.67,299.33 380.00,298.00 " stroke-width="19.97"/><path d="M289.00,540.00 C288.83,538.00 288.17,532.17 288.00,528.00 C287.83,523.83 289.33,517.33 288.00,515.00 C286.67,512.67 284.00,515.17 280.00,514.00 C276.00,512.83 268.67,511.00 264.00,508.00 C259.33,505.00 255.17,500.67 252.00,496.00 C248.83,491.33 246.83,486.00 245.00,480.00 C243.17,474.00 241.83,466.33 241.00,460.00 C240.17,453.67 239.83,447.67 240.00,442.00 C240.17,436.33 240.50,431.67 242.00,426.00 C243.50,420.33 246.00,414.00 249.00,408.00 C252.00,402.00 255.83,395.67 260.00,390.00 C264.17,384.33 269.33,379.33 274.00,374.00 C278.67,368.67 283.00,363.00 288.00,358.00 C293.00,353.00 298.67,348.33 304.00,344.00 C309.33,339.67 314.00,336.33 320.00,332.00 C326.00,327.67 336.67,320.33 340.00,318.00 " stroke-width="22.94"/><path d="M288.00,515.00 C286.67,514.83 284.00,515.17 280.00,514.00 C276.00,512.83 268.67,511.00 264.00,508.00 C259.33,505.00 255.17,500.67 252.00,496.00 C248.83,491.33 246.83,486.00 245.00,480.00 C243.17,474.00 241.83,466.33 241.00,460.00 C240.17,453.67 239.83,447.67 240.00,442.00 C240.17,436.33 240.50,431.67 242.00,426.00 C243.50,420.33 246.00,414.00 249.00,408.00 C252.00,402.00 255.83,395.67 260.00,390.00 C264.17,384.33 269.33,379.33 274.00,374.00 C278.67,368.67 283.00,363.00 288.00,358.00 C293.00,353.00 301.33,346.33 304.00,344.00 " stroke-width="26"/><path d="M690.00,302.00 C692.33,303.17 699.67,306.33 704.00,309.00 C708.33,311.67 712.00,314.67 716.00,318.00 C720.00,321.33 724.00,324.83 728.00,329.00 C732.00,333.17 736.50,338.17 740.00,343.00 C743.50,347.83 746.33,352.83 749.00,358.00 C751.67,363.17 754.00,368.67 756.00,374.00 C758.00,379.33 759.50,384.00 761.00,390.00 C762.50,396.00 763.75,403.33 765.00,410.00 C766.25,416.67 767.50,423.83 768.50,430.00 C769.50,436.17 770.42,441.50 771.00,447.00 C771.58,452.50 772.17,457.50 772.00,463.00 C771.83,468.50 771.00,473.83 770.00,480.00 C769.00,486.17 767.67,494.00 766.00,500.00 C764.33,506.00 761.83,511.33 760.00,516.00 C758.17,520.67 755.50,524.00 755.00,528.00 C754.50,532.00 757.33,535.33 757.00,540.00 C756.67,544.67 754.83,550.67 753.00,556.00 C751.17,561.33 748.83,566.67 746.00,572.00 C743.17,577.33 739.67,583.33 736.00,588.00 C732.33,592.67 730.00,595.50 724.00,600.00 C718.00,604.50 707.33,611.17 700.00,615.00 C692.67,618.83 686.67,621.00 680.00,623.00 C673.33,625.00 663.33,626.33 660.00,627.00 " stroke-width="18.98"/><path d="M716.00,318.00 C718.00,319.83 724.00,324.83 728.00,329.00 C732.00,333.17 736.50,338.17 740.00,343.00 C743.50,347.83 746.33,352.83 749.00,358.00 C751.67,363.17 754.00,368.67 756.00,374.00 C758.00,379.33 759.50,384.00 761.00,390.00 C762.50,396.00 763.75,403.33 765.00,410.00 C766.25,416.67 767.50,423.83 768.50,430.00 C769.50,436.17 770.42,441.50 771.00,447.00 C771.58,452.50 772.17,457.50 772.00,463.00 C771.83,468.50 771.00,473.83 770.00,480.00 C769.00,486.17 767.67,494.00 766.00,500.00 C764.33,506.00 761.83,511.33 760.00,516.00 C758.17,520.67 755.50,524.00 755.00,528.00 C754.50,532.00 757.33,535.33 757.00,540.00 C756.67,544.67 754.83,550.67 753.00,556.00 C751.17,561.33 748.83,566.67 746.00,572.00 C743.17,577.33 739.67,583.33 736.00,588.00 C732.33,592.67 730.00,595.50 724.00,600.00 C718.00,604.50 704.00,612.50 700.00,615.00 " stroke-width="20.96"/><path d="M740.00,343.00 C741.50,345.50 746.33,352.83 749.00,358.00 C751.67,363.17 754.00,368.67 756.00,374.00 C758.00,379.33 759.50,384.00 761.00,390.00 C762.50,396.00 763.75,403.33 765.00,410.00 C766.25,416.67 767.50,423.83 768.50,430.00 C769.50,436.17 770.42,441.50 771.00,447.00 C771.58,452.50 772.17,457.50 772.00,463.00 C771.83,468.50 771.00,473.83 770.00,480.00 C769.00,486.17 767.67,494.00 766.00,500.00 C764.33,506.00 761.83,511.33 760.00,516.00 C758.17,520.67 755.50,524.00 755.00,528.00 C754.50,532.00 757.33,535.33 757.00,540.00 C756.67,544.67 754.83,550.67 753.00,556.00 C751.17,561.33 748.83,566.67 746.00,572.00 C743.17,577.33 737.67,585.33 736.00,588.00 " stroke-width="23"/><path d="M757.00,540.00 C756.33,542.67 754.83,550.67 753.00,556.00 C751.17,561.33 748.83,566.67 746.00,572.00 C743.17,577.33 739.67,583.33 736.00,588.00 C732.33,592.67 730.00,595.50 724.00,600.00 C718.00,604.50 707.33,611.17 700.00,615.00 C692.67,618.83 686.67,621.00 680.00,623.00 C673.33,625.00 666.67,626.17 660.00,627.00 C653.33,627.83 645.67,628.00 640.00,628.00 C634.33,628.00 630.67,625.33 626.00,627.00 C621.33,628.67 617.67,634.17 612.00,638.00 C606.33,641.83 599.00,646.33 592.00,650.00 C585.00,653.67 577.67,657.00 570.00,660.00 C562.33,663.00 554.33,666.00 546.00,668.00 C537.67,670.00 527.67,671.17 520.00,672.00 C512.33,672.83 505.00,673.00 500.00,673.00 C495.00,673.00 495.67,672.83 490.00,672.00 C484.33,671.17 473.33,670.00 466.00,668.00 C458.67,666.00 452.00,663.00 446.00,660.00 C440.00,657.00 434.33,653.67 430.00,650.00 C425.67,646.33 422.50,642.33 420.00,638.00 C417.50,633.67 415.67,628.67 415.00,624.00 C414.33,619.33 417.50,613.00 416.00,610.00 C414.50,607.00 410.33,607.17 406.00,606.00 C401.67,604.83 396.00,602.83 390.00,603.00 C384.00,603.17 376.67,606.33 370.00,607.00 C363.33,607.67 356.67,607.83 350.00,607.00 C343.33,606.17 336.33,604.83 330.00,602.00 C323.67,599.17 317.33,594.67 312.00,590.00 C306.67,585.33 301.67,579.67 298.00,574.00 C294.33,568.33 291.50,561.67 290.00,556.00 C288.50,550.33 289.33,544.67 289.00,540.00 C288.67,535.33 288.17,532.17 288.00,528.00 C287.83,523.83 289.33,517.33 288.00,515.00 C286.67,512.67 284.00,515.17 280.00,514.00 C276.00,512.83 268.67,511.00 264.00,508.00 C259.33,505.00 254.00,498.00 252.00,496.00 " stroke-width="18.32"/><path d="M746.00,572.00 C744.33,574.67 739.67,583.33 736.00,588.00 C732.33,592.67 730.00,595.50 724.00,600.00 C718.00,604.50 707.33,611.17 700.00,615.00 C692.67,618.83 686.67,621.00 680.00,623.00 C673.33,625.00 666.67,626.17 660.00,627.00 C653.33,627.83 645.67,628.00 640.00,628.00 C634.33,628.00 630.67,625.33 626.00,627.00 C621.33,628.67 617.67,634.17 612.00,638.00 C606.33,641.83 599.00,646.33 592.00,650.00 C585.00,653.67 577.67,657.00 570.00,660.00 C562.33,663.00 554.33,666.00 546.00,668.00 C537.67,670.00 527.67,671.17 520.00,672.00 C512.33,672.83 505.00,673.00 500.00,673.00 C495.00,673.00 495.67,672.83 490.00,672.00 C484.33,671.17 473.33,670.00 466.00,668.00 C458.67,666.00 452.00,663.00 446.00,660.00 C440.00,657.00 434.33,653.67 430.00,650.00 C425.67,646.33 422.50,642.33 420.00,638.00 C417.50,633.67 415.67,628.67 415.00,624.00 C414.33,619.33 417.50,613.00 416.00,610.00 C414.50,607.00 410.33,607.17 406.00,606.00 C401.67,604.83 396.00,602.83 390.00,603.00 C384.00,603.17 376.67,606.33 370.00,607.00 C363.33,607.67 356.67,607.83 350.00,607.00 C343.33,606.17 336.33,604.83 330.00,602.00 C323.67,599.17 317.33,594.67 312.00,590.00 C306.67,585.33 301.67,579.67 298.00,574.00 C294.33,568.33 291.50,561.67 290.00,556.00 C288.50,550.33 289.33,544.67 289.00,540.00 C288.67,535.33 288.17,532.17 288.00,528.00 C287.83,523.83 289.33,517.33 288.00,515.00 C286.67,512.67 281.33,514.17 280.00,514.00 " stroke-width="19.64"/><path d="M724.00,600.00 C720.00,602.50 707.33,611.17 700.00,615.00 C692.67,618.83 686.67,621.00 680.00,623.00 C673.33,625.00 666.67,626.17 660.00,627.00 C653.33,627.83 645.67,628.00 640.00,628.00 C634.33,628.00 630.67,625.33 626.00,627.00 C621.33,628.67 617.67,634.17 612.00,638.00 C606.33,641.83 599.00,646.33 592.00,650.00 C585.00,653.67 577.67,657.00 570.00,660.00 C562.33,663.00 554.33,666.00 546.00,668.00 C537.67,670.00 527.67,671.17 520.00,672.00 C512.33,672.83 505.00,673.00 500.00,673.00 C495.00,673.00 495.67,672.83 490.00,672.00 C484.33,671.17 473.33,670.00 466.00,668.00 C458.67,666.00 452.00,663.00 446.00,660.00 C440.00,657.00 434.33,653.67 430.00,650.00 C425.67,646.33 422.50,642.33 420.00,638.00 C417.50,633.67 415.67,628.67 415.00,624.00 C414.33,619.33 417.50,613.00 416.00,610.00 C414.50,607.00 410.33,607.17 406.00,606.00 C401.67,604.83 396.00,602.83 390.00,603.00 C384.00,603.17 376.67,606.33 370.00,607.00 C363.33,607.67 356.67,607.83 350.00,607.00 C343.33,606.17 336.33,604.83 330.00,602.00 C323.67,599.17 317.33,594.67 312.00,590.00 C306.67,585.33 301.67,579.67 298.00,574.00 C294.33,568.33 291.50,561.67 290.00,556.00 C288.50,550.33 289.33,544.67 289.00,540.00 C288.67,535.33 288.17,530.00 288.00,528.00 " stroke-width="21"/></g><g filter="url(#b1)" opacity="0.95" fill="none" stroke="#6c06a6"><use href="#sil" stroke-width="13"/><path d="M298.00,574.00 C296.67,571.00 291.50,561.67 290.00,556.00 C288.50,550.33 289.33,544.67 289.00,540.00 C288.67,535.33 288.17,532.17 288.00,528.00 C287.83,523.83 289.33,517.33 288.00,515.00 C286.67,512.67 284.00,515.17 280.00,514.00 C276.00,512.83 268.67,511.00 264.00,508.00 C259.33,505.00 255.17,500.67 252.00,496.00 C248.83,491.33 246.83,486.00 245.00,480.00 C243.17,474.00 241.83,466.33 241.00,460.00 C240.17,453.67 239.83,447.67 240.00,442.00 C240.17,436.33 240.50,431.67 242.00,426.00 C243.50,420.33 246.00,414.00 249.00,408.00 C252.00,402.00 255.83,395.67 260.00,390.00 C264.17,384.33 269.33,379.33 274.00,374.00 C278.67,368.67 283.00,363.00 288.00,358.00 C293.00,353.00 298.67,348.33 304.00,344.00 C309.33,339.67 314.00,336.33 320.00,332.00 C326.00,327.67 333.33,322.33 340.00,318.00 C346.67,313.67 353.33,309.33 360.00,306.00 C366.67,302.67 376.67,299.33 380.00,298.00 " stroke-width="15.475"/><path d="M289.00,540.00 C288.83,538.00 288.17,532.17 288.00,528.00 C287.83,523.83 289.33,517.33 288.00,515.00 C286.67,512.67 284.00,515.17 280.00,514.00 C276.00,512.83 268.67,511.00 264.00,508.00 C259.33,505.00 255.17,500.67 252.00,496.00 C248.83,491.33 246.83,486.00 245.00,480.00 C243.17,474.00 241.83,466.33 241.00,460.00 C240.17,453.67 239.83,447.67 240.00,442.00 C240.17,436.33 240.50,431.67 242.00,426.00 C243.50,420.33 246.00,414.00 249.00,408.00 C252.00,402.00 255.83,395.67 260.00,390.00 C264.17,384.33 269.33,379.33 274.00,374.00 C278.67,368.67 283.00,363.00 288.00,358.00 C293.00,353.00 298.67,348.33 304.00,344.00 C309.33,339.67 314.00,336.33 320.00,332.00 C326.00,327.67 336.67,320.33 340.00,318.00 " stroke-width="17.95"/><path d="M288.00,515.00 C286.67,514.83 284.00,515.17 280.00,514.00 C276.00,512.83 268.67,511.00 264.00,508.00 C259.33,505.00 255.17,500.67 252.00,496.00 C248.83,491.33 246.83,486.00 245.00,480.00 C243.17,474.00 241.83,466.33 241.00,460.00 C240.17,453.67 239.83,447.67 240.00,442.00 C240.17,436.33 240.50,431.67 242.00,426.00 C243.50,420.33 246.00,414.00 249.00,408.00 C252.00,402.00 255.83,395.67 260.00,390.00 C264.17,384.33 269.33,379.33 274.00,374.00 C278.67,368.67 283.00,363.00 288.00,358.00 C293.00,353.00 301.33,346.33 304.00,344.00 " stroke-width="20.5"/><path d="M690.00,302.00 C692.33,303.17 699.67,306.33 704.00,309.00 C708.33,311.67 712.00,314.67 716.00,318.00 C720.00,321.33 724.00,324.83 728.00,329.00 C732.00,333.17 736.50,338.17 740.00,343.00 C743.50,347.83 746.33,352.83 749.00,358.00 C751.67,363.17 754.00,368.67 756.00,374.00 C758.00,379.33 759.50,384.00 761.00,390.00 C762.50,396.00 763.75,403.33 765.00,410.00 C766.25,416.67 767.50,423.83 768.50,430.00 C769.50,436.17 770.42,441.50 771.00,447.00 C771.58,452.50 772.17,457.50 772.00,463.00 C771.83,468.50 771.00,473.83 770.00,480.00 C769.00,486.17 767.67,494.00 766.00,500.00 C764.33,506.00 761.83,511.33 760.00,516.00 C758.17,520.67 755.50,524.00 755.00,528.00 C754.50,532.00 757.33,535.33 757.00,540.00 C756.67,544.67 754.83,550.67 753.00,556.00 C751.17,561.33 748.83,566.67 746.00,572.00 C743.17,577.33 739.67,583.33 736.00,588.00 C732.33,592.67 730.00,595.50 724.00,600.00 C718.00,604.50 707.33,611.17 700.00,615.00 C692.67,618.83 686.67,621.00 680.00,623.00 C673.33,625.00 663.33,626.33 660.00,627.00 " stroke-width="14.65"/><path d="M716.00,318.00 C718.00,319.83 724.00,324.83 728.00,329.00 C732.00,333.17 736.50,338.17 740.00,343.00 C743.50,347.83 746.33,352.83 749.00,358.00 C751.67,363.17 754.00,368.67 756.00,374.00 C758.00,379.33 759.50,384.00 761.00,390.00 C762.50,396.00 763.75,403.33 765.00,410.00 C766.25,416.67 767.50,423.83 768.50,430.00 C769.50,436.17 770.42,441.50 771.00,447.00 C771.58,452.50 772.17,457.50 772.00,463.00 C771.83,468.50 771.00,473.83 770.00,480.00 C769.00,486.17 767.67,494.00 766.00,500.00 C764.33,506.00 761.83,511.33 760.00,516.00 C758.17,520.67 755.50,524.00 755.00,528.00 C754.50,532.00 757.33,535.33 757.00,540.00 C756.67,544.67 754.83,550.67 753.00,556.00 C751.17,561.33 748.83,566.67 746.00,572.00 C743.17,577.33 739.67,583.33 736.00,588.00 C732.33,592.67 730.00,595.50 724.00,600.00 C718.00,604.50 704.00,612.50 700.00,615.00 " stroke-width="16.3"/><path d="M740.00,343.00 C741.50,345.50 746.33,352.83 749.00,358.00 C751.67,363.17 754.00,368.67 756.00,374.00 C758.00,379.33 759.50,384.00 761.00,390.00 C762.50,396.00 763.75,403.33 765.00,410.00 C766.25,416.67 767.50,423.83 768.50,430.00 C769.50,436.17 770.42,441.50 771.00,447.00 C771.58,452.50 772.17,457.50 772.00,463.00 C771.83,468.50 771.00,473.83 770.00,480.00 C769.00,486.17 767.67,494.00 766.00,500.00 C764.33,506.00 761.83,511.33 760.00,516.00 C758.17,520.67 755.50,524.00 755.00,528.00 C754.50,532.00 757.33,535.33 757.00,540.00 C756.67,544.67 754.83,550.67 753.00,556.00 C751.17,561.33 748.83,566.67 746.00,572.00 C743.17,577.33 737.67,585.33 736.00,588.00 " stroke-width="18"/><path d="M757.00,540.00 C756.33,542.67 754.83,550.67 753.00,556.00 C751.17,561.33 748.83,566.67 746.00,572.00 C743.17,577.33 739.67,583.33 736.00,588.00 C732.33,592.67 730.00,595.50 724.00,600.00 C718.00,604.50 707.33,611.17 700.00,615.00 C692.67,618.83 686.67,621.00 680.00,623.00 C673.33,625.00 666.67,626.17 660.00,627.00 C653.33,627.83 645.67,628.00 640.00,628.00 C634.33,628.00 630.67,625.33 626.00,627.00 C621.33,628.67 617.67,634.17 612.00,638.00 C606.33,641.83 599.00,646.33 592.00,650.00 C585.00,653.67 577.67,657.00 570.00,660.00 C562.33,663.00 554.33,666.00 546.00,668.00 C537.67,670.00 527.67,671.17 520.00,672.00 C512.33,672.83 505.00,673.00 500.00,673.00 C495.00,673.00 495.67,672.83 490.00,672.00 C484.33,671.17 473.33,670.00 466.00,668.00 C458.67,666.00 452.00,663.00 446.00,660.00 C440.00,657.00 434.33,653.67 430.00,650.00 C425.67,646.33 422.50,642.33 420.00,638.00 C417.50,633.67 415.67,628.67 415.00,624.00 C414.33,619.33 417.50,613.00 416.00,610.00 C414.50,607.00 410.33,607.17 406.00,606.00 C401.67,604.83 396.00,602.83 390.00,603.00 C384.00,603.17 376.67,606.33 370.00,607.00 C363.33,607.67 356.67,607.83 350.00,607.00 C343.33,606.17 336.33,604.83 330.00,602.00 C323.67,599.17 317.33,594.67 312.00,590.00 C306.67,585.33 301.67,579.67 298.00,574.00 C294.33,568.33 291.50,561.67 290.00,556.00 C288.50,550.33 289.33,544.67 289.00,540.00 C288.67,535.33 288.17,532.17 288.00,528.00 C287.83,523.83 289.33,517.33 288.00,515.00 C286.67,512.67 284.00,515.17 280.00,514.00 C276.00,512.83 268.67,511.00 264.00,508.00 C259.33,505.00 254.00,498.00 252.00,496.00 " stroke-width="13.99"/><path d="M746.00,572.00 C744.33,574.67 739.67,583.33 736.00,588.00 C732.33,592.67 730.00,595.50 724.00,600.00 C718.00,604.50 707.33,611.17 700.00,615.00 C692.67,618.83 686.67,621.00 680.00,623.00 C673.33,625.00 666.67,626.17 660.00,627.00 C653.33,627.83 645.67,628.00 640.00,628.00 C634.33,628.00 630.67,625.33 626.00,627.00 C621.33,628.67 617.67,634.17 612.00,638.00 C606.33,641.83 599.00,646.33 592.00,650.00 C585.00,653.67 577.67,657.00 570.00,660.00 C562.33,663.00 554.33,666.00 546.00,668.00 C537.67,670.00 527.67,671.17 520.00,672.00 C512.33,672.83 505.00,673.00 500.00,673.00 C495.00,673.00 495.67,672.83 490.00,672.00 C484.33,671.17 473.33,670.00 466.00,668.00 C458.67,666.00 452.00,663.00 446.00,660.00 C440.00,657.00 434.33,653.67 430.00,650.00 C425.67,646.33 422.50,642.33 420.00,638.00 C417.50,633.67 415.67,628.67 415.00,624.00 C414.33,619.33 417.50,613.00 416.00,610.00 C414.50,607.00 410.33,607.17 406.00,606.00 C401.67,604.83 396.00,602.83 390.00,603.00 C384.00,603.17 376.67,606.33 370.00,607.00 C363.33,607.67 356.67,607.83 350.00,607.00 C343.33,606.17 336.33,604.83 330.00,602.00 C323.67,599.17 317.33,594.67 312.00,590.00 C306.67,585.33 301.67,579.67 298.00,574.00 C294.33,568.33 291.50,561.67 290.00,556.00 C288.50,550.33 289.33,544.67 289.00,540.00 C288.67,535.33 288.17,532.17 288.00,528.00 C287.83,523.83 289.33,517.33 288.00,515.00 C286.67,512.67 281.33,514.17 280.00,514.00 " stroke-width="14.98"/><path d="M724.00,600.00 C720.00,602.50 707.33,611.17 700.00,615.00 C692.67,618.83 686.67,621.00 680.00,623.00 C673.33,625.00 666.67,626.17 660.00,627.00 C653.33,627.83 645.67,628.00 640.00,628.00 C634.33,628.00 630.67,625.33 626.00,627.00 C621.33,628.67 617.67,634.17 612.00,638.00 C606.33,641.83 599.00,646.33 592.00,650.00 C585.00,653.67 577.67,657.00 570.00,660.00 C562.33,663.00 554.33,666.00 546.00,668.00 C537.67,670.00 527.67,671.17 520.00,672.00 C512.33,672.83 505.00,673.00 500.00,673.00 C495.00,673.00 495.67,672.83 490.00,672.00 C484.33,671.17 473.33,670.00 466.00,668.00 C458.67,666.00 452.00,663.00 446.00,660.00 C440.00,657.00 434.33,653.67 430.00,650.00 C425.67,646.33 422.50,642.33 420.00,638.00 C417.50,633.67 415.67,628.67 415.00,624.00 C414.33,619.33 417.50,613.00 416.00,610.00 C414.50,607.00 410.33,607.17 406.00,606.00 C401.67,604.83 396.00,602.83 390.00,603.00 C384.00,603.17 376.67,606.33 370.00,607.00 C363.33,607.67 356.67,607.83 350.00,607.00 C343.33,606.17 336.33,604.83 330.00,602.00 C323.67,599.17 317.33,594.67 312.00,590.00 C306.67,585.33 301.67,579.67 298.00,574.00 C294.33,568.33 291.50,561.67 290.00,556.00 C288.50,550.33 289.33,544.67 289.00,540.00 C288.67,535.33 288.17,530.00 288.00,528.00 " stroke-width="16"/></g><g filter="url(#b1)" opacity="1" fill="none" stroke="#220b8e"><use href="#sil" stroke-width="9"/><path d="M298.00,574.00 C296.67,571.00 291.50,561.67 290.00,556.00 C288.50,550.33 289.33,544.67 289.00,540.00 C288.67,535.33 288.17,532.17 288.00,528.00 C287.83,523.83 289.33,517.33 288.00,515.00 C286.67,512.67 284.00,515.17 280.00,514.00 C276.00,512.83 268.67,511.00 264.00,508.00 C259.33,505.00 255.17,500.67 252.00,496.00 C248.83,491.33 246.83,486.00 245.00,480.00 C243.17,474.00 241.83,466.33 241.00,460.00 C240.17,453.67 239.83,447.67 240.00,442.00 C240.17,436.33 240.50,431.67 242.00,426.00 C243.50,420.33 246.00,414.00 249.00,408.00 C252.00,402.00 255.83,395.67 260.00,390.00 C264.17,384.33 269.33,379.33 274.00,374.00 C278.67,368.67 283.00,363.00 288.00,358.00 C293.00,353.00 298.67,348.33 304.00,344.00 C309.33,339.67 314.00,336.33 320.00,332.00 C326.00,327.67 333.33,322.33 340.00,318.00 C346.67,313.67 353.33,309.33 360.00,306.00 C366.67,302.67 376.67,299.33 380.00,298.00 " stroke-width="11.145"/><path d="M289.00,540.00 C288.83,538.00 288.17,532.17 288.00,528.00 C287.83,523.83 289.33,517.33 288.00,515.00 C286.67,512.67 284.00,515.17 280.00,514.00 C276.00,512.83 268.67,511.00 264.00,508.00 C259.33,505.00 255.17,500.67 252.00,496.00 C248.83,491.33 246.83,486.00 245.00,480.00 C243.17,474.00 241.83,466.33 241.00,460.00 C240.17,453.67 239.83,447.67 240.00,442.00 C240.17,436.33 240.50,431.67 242.00,426.00 C243.50,420.33 246.00,414.00 249.00,408.00 C252.00,402.00 255.83,395.67 260.00,390.00 C264.17,384.33 269.33,379.33 274.00,374.00 C278.67,368.67 283.00,363.00 288.00,358.00 C293.00,353.00 298.67,348.33 304.00,344.00 C309.33,339.67 314.00,336.33 320.00,332.00 C326.00,327.67 336.67,320.33 340.00,318.00 " stroke-width="13.29"/><path d="M288.00,515.00 C286.67,514.83 284.00,515.17 280.00,514.00 C276.00,512.83 268.67,511.00 264.00,508.00 C259.33,505.00 255.17,500.67 252.00,496.00 C248.83,491.33 246.83,486.00 245.00,480.00 C243.17,474.00 241.83,466.33 241.00,460.00 C240.17,453.67 239.83,447.67 240.00,442.00 C240.17,436.33 240.50,431.67 242.00,426.00 C243.50,420.33 246.00,414.00 249.00,408.00 C252.00,402.00 255.83,395.67 260.00,390.00 C264.17,384.33 269.33,379.33 274.00,374.00 C278.67,368.67 283.00,363.00 288.00,358.00 C293.00,353.00 301.33,346.33 304.00,344.00 " stroke-width="15.5"/><path d="M690.00,302.00 C692.33,303.17 699.67,306.33 704.00,309.00 C708.33,311.67 712.00,314.67 716.00,318.00 C720.00,321.33 724.00,324.83 728.00,329.00 C732.00,333.17 736.50,338.17 740.00,343.00 C743.50,347.83 746.33,352.83 749.00,358.00 C751.67,363.17 754.00,368.67 756.00,374.00 C758.00,379.33 759.50,384.00 761.00,390.00 C762.50,396.00 763.75,403.33 765.00,410.00 C766.25,416.67 767.50,423.83 768.50,430.00 C769.50,436.17 770.42,441.50 771.00,447.00 C771.58,452.50 772.17,457.50 772.00,463.00 C771.83,468.50 771.00,473.83 770.00,480.00 C769.00,486.17 767.67,494.00 766.00,500.00 C764.33,506.00 761.83,511.33 760.00,516.00 C758.17,520.67 755.50,524.00 755.00,528.00 C754.50,532.00 757.33,535.33 757.00,540.00 C756.67,544.67 754.83,550.67 753.00,556.00 C751.17,561.33 748.83,566.67 746.00,572.00 C743.17,577.33 739.67,583.33 736.00,588.00 C732.33,592.67 730.00,595.50 724.00,600.00 C718.00,604.50 707.33,611.17 700.00,615.00 C692.67,618.83 686.67,621.00 680.00,623.00 C673.33,625.00 663.33,626.33 660.00,627.00 " stroke-width="10.485"/><path d="M716.00,318.00 C718.00,319.83 724.00,324.83 728.00,329.00 C732.00,333.17 736.50,338.17 740.00,343.00 C743.50,347.83 746.33,352.83 749.00,358.00 C751.67,363.17 754.00,368.67 756.00,374.00 C758.00,379.33 759.50,384.00 761.00,390.00 C762.50,396.00 763.75,403.33 765.00,410.00 C766.25,416.67 767.50,423.83 768.50,430.00 C769.50,436.17 770.42,441.50 771.00,447.00 C771.58,452.50 772.17,457.50 772.00,463.00 C771.83,468.50 771.00,473.83 770.00,480.00 C769.00,486.17 767.67,494.00 766.00,500.00 C764.33,506.00 761.83,511.33 760.00,516.00 C758.17,520.67 755.50,524.00 755.00,528.00 C754.50,532.00 757.33,535.33 757.00,540.00 C756.67,544.67 754.83,550.67 753.00,556.00 C751.17,561.33 748.83,566.67 746.00,572.00 C743.17,577.33 739.67,583.33 736.00,588.00 C732.33,592.67 730.00,595.50 724.00,600.00 C718.00,604.50 704.00,612.50 700.00,615.00 " stroke-width="11.97"/><path d="M740.00,343.00 C741.50,345.50 746.33,352.83 749.00,358.00 C751.67,363.17 754.00,368.67 756.00,374.00 C758.00,379.33 759.50,384.00 761.00,390.00 C762.50,396.00 763.75,403.33 765.00,410.00 C766.25,416.67 767.50,423.83 768.50,430.00 C769.50,436.17 770.42,441.50 771.00,447.00 C771.58,452.50 772.17,457.50 772.00,463.00 C771.83,468.50 771.00,473.83 770.00,480.00 C769.00,486.17 767.67,494.00 766.00,500.00 C764.33,506.00 761.83,511.33 760.00,516.00 C758.17,520.67 755.50,524.00 755.00,528.00 C754.50,532.00 757.33,535.33 757.00,540.00 C756.67,544.67 754.83,550.67 753.00,556.00 C751.17,561.33 748.83,566.67 746.00,572.00 C743.17,577.33 737.67,585.33 736.00,588.00 " stroke-width="13.5"/><path d="M757.00,540.00 C756.33,542.67 754.83,550.67 753.00,556.00 C751.17,561.33 748.83,566.67 746.00,572.00 C743.17,577.33 739.67,583.33 736.00,588.00 C732.33,592.67 730.00,595.50 724.00,600.00 C718.00,604.50 707.33,611.17 700.00,615.00 C692.67,618.83 686.67,621.00 680.00,623.00 C673.33,625.00 666.67,626.17 660.00,627.00 C653.33,627.83 645.67,628.00 640.00,628.00 C634.33,628.00 630.67,625.33 626.00,627.00 C621.33,628.67 617.67,634.17 612.00,638.00 C606.33,641.83 599.00,646.33 592.00,650.00 C585.00,653.67 577.67,657.00 570.00,660.00 C562.33,663.00 554.33,666.00 546.00,668.00 C537.67,670.00 527.67,671.17 520.00,672.00 C512.33,672.83 505.00,673.00 500.00,673.00 C495.00,673.00 495.67,672.83 490.00,672.00 C484.33,671.17 473.33,670.00 466.00,668.00 C458.67,666.00 452.00,663.00 446.00,660.00 C440.00,657.00 434.33,653.67 430.00,650.00 C425.67,646.33 422.50,642.33 420.00,638.00 C417.50,633.67 415.67,628.67 415.00,624.00 C414.33,619.33 417.50,613.00 416.00,610.00 C414.50,607.00 410.33,607.17 406.00,606.00 C401.67,604.83 396.00,602.83 390.00,603.00 C384.00,603.17 376.67,606.33 370.00,607.00 C363.33,607.67 356.67,607.83 350.00,607.00 C343.33,606.17 336.33,604.83 330.00,602.00 C323.67,599.17 317.33,594.67 312.00,590.00 C306.67,585.33 301.67,579.67 298.00,574.00 C294.33,568.33 291.50,561.67 290.00,556.00 C288.50,550.33 289.33,544.67 289.00,540.00 C288.67,535.33 288.17,532.17 288.00,528.00 C287.83,523.83 289.33,517.33 288.00,515.00 C286.67,512.67 284.00,515.17 280.00,514.00 C276.00,512.83 268.67,511.00 264.00,508.00 C259.33,505.00 254.00,498.00 252.00,496.00 " stroke-width="9.99"/><path d="M746.00,572.00 C744.33,574.67 739.67,583.33 736.00,588.00 C732.33,592.67 730.00,595.50 724.00,600.00 C718.00,604.50 707.33,611.17 700.00,615.00 C692.67,618.83 686.67,621.00 680.00,623.00 C673.33,625.00 666.67,626.17 660.00,627.00 C653.33,627.83 645.67,628.00 640.00,628.00 C634.33,628.00 630.67,625.33 626.00,627.00 C621.33,628.67 617.67,634.17 612.00,638.00 C606.33,641.83 599.00,646.33 592.00,650.00 C585.00,653.67 577.67,657.00 570.00,660.00 C562.33,663.00 554.33,666.00 546.00,668.00 C537.67,670.00 527.67,671.17 520.00,672.00 C512.33,672.83 505.00,673.00 500.00,673.00 C495.00,673.00 495.67,672.83 490.00,672.00 C484.33,671.17 473.33,670.00 466.00,668.00 C458.67,666.00 452.00,663.00 446.00,660.00 C440.00,657.00 434.33,653.67 430.00,650.00 C425.67,646.33 422.50,642.33 420.00,638.00 C417.50,633.67 415.67,628.67 415.00,624.00 C414.33,619.33 417.50,613.00 416.00,610.00 C414.50,607.00 410.33,607.17 406.00,606.00 C401.67,604.83 396.00,602.83 390.00,603.00 C384.00,603.17 376.67,606.33 370.00,607.00 C363.33,607.67 356.67,607.83 350.00,607.00 C343.33,606.17 336.33,604.83 330.00,602.00 C323.67,599.17 317.33,594.67 312.00,590.00 C306.67,585.33 301.67,579.67 298.00,574.00 C294.33,568.33 291.50,561.67 290.00,556.00 C288.50,550.33 289.33,544.67 289.00,540.00 C288.67,535.33 288.17,532.17 288.00,528.00 C287.83,523.83 289.33,517.33 288.00,515.00 C286.67,512.67 281.33,514.17 280.00,514.00 " stroke-width="10.98"/><path d="M724.00,600.00 C720.00,602.50 707.33,611.17 700.00,615.00 C692.67,618.83 686.67,621.00 680.00,623.00 C673.33,625.00 666.67,626.17 660.00,627.00 C653.33,627.83 645.67,628.00 640.00,628.00 C634.33,628.00 630.67,625.33 626.00,627.00 C621.33,628.67 617.67,634.17 612.00,638.00 C606.33,641.83 599.00,646.33 592.00,650.00 C585.00,653.67 577.67,657.00 570.00,660.00 C562.33,663.00 554.33,666.00 546.00,668.00 C537.67,670.00 527.67,671.17 520.00,672.00 C512.33,672.83 505.00,673.00 500.00,673.00 C495.00,673.00 495.67,672.83 490.00,672.00 C484.33,671.17 473.33,670.00 466.00,668.00 C458.67,666.00 452.00,663.00 446.00,660.00 C440.00,657.00 434.33,653.67 430.00,650.00 C425.67,646.33 422.50,642.33 420.00,638.00 C417.50,633.67 415.67,628.67 415.00,624.00 C414.33,619.33 417.50,613.00 416.00,610.00 C414.50,607.00 410.33,607.17 406.00,606.00 C401.67,604.83 396.00,602.83 390.00,603.00 C384.00,603.17 376.67,606.33 370.00,607.00 C363.33,607.67 356.67,607.83 350.00,607.00 C343.33,606.17 336.33,604.83 330.00,602.00 C323.67,599.17 317.33,594.67 312.00,590.00 C306.67,585.33 301.67,579.67 298.00,574.00 C294.33,568.33 291.50,561.67 290.00,556.00 C288.50,550.33 289.33,544.67 289.00,540.00 C288.67,535.33 288.17,530.00 288.00,528.00 " stroke-width="12"/></g>
</g>
<use href="#sil" fill="none" stroke="#220b8e" stroke-width="2" filter="url(#b1)" opacity=".85"/>
</g>

</g>
<g id="frontL" opacity=".999">
<path class="s" d="M92.50,618.50 L474.00,790.60 L921.90,643.75"/>
<path class="t" d="M494.60,783.84 L505.54,788.78"/>
<text class="l" transform="translate(515.40,819.54) scale(1,1.07)" text-anchor="start">0</text>
<path class="t" d="M627.45,740.29 L638.39,745.22"/>
<text class="l" transform="translate(648.25,775.99) scale(1,1.07)" text-anchor="start">100</text>
<path class="t" d="M760.21,696.76 L771.15,701.70"/>
<text class="l" transform="translate(781.01,732.46) scale(1,1.07)" text-anchor="start">200</text>
<path class="t" d="M893.06,653.21 L903.99,658.14"/>
<text class="l" transform="translate(913.86,688.91) scale(1,1.07)" text-anchor="start">300</text>
<path class="t" d="M456.72,782.80 L445.32,786.54"/>
<text class="l" transform="translate(436.32,817.00) scale(1,1.07)" text-anchor="end">0</text>
<path class="t" d="M364.70,741.29 L353.30,745.03"/>
<text class="l" transform="translate(344.30,775.49) scale(1,1.07)" text-anchor="end">100</text>
<path class="t" d="M272.80,699.83 L261.39,703.57"/>
<text class="l" transform="translate(252.40,734.03) scale(1,1.07)" text-anchor="end">200</text>
<path class="t" d="M180.89,658.38 L169.49,662.11"/>
<text class="l" transform="translate(160.49,692.58) scale(1,1.07)" text-anchor="end">300</text>
<path class="t" d="M92.50,602.51 L81.08,606.21"/>
<text class="l" transform="translate(61.70,622.76) scale(1,1.07)" text-anchor="end">0</text>
<path class="t" d="M92.50,498.80 L81.08,502.50"/>
<text class="l" transform="translate(61.70,519.05) scale(1,1.07)" text-anchor="end">100</text>
<path class="t" d="M92.50,395.02 L81.08,398.71"/>
<text class="l" transform="translate(61.70,415.27) scale(1,1.07)" text-anchor="end">200</text>
<path class="t" d="M92.50,291.31 L81.08,295.00"/>
<text class="l" transform="translate(61.70,311.56) scale(1,1.07)" text-anchor="end">300</text>
<text class="l" text-anchor="middle" transform="translate(241.7,795.6) rotate(24.3)" y="7">y</text>
<text class="l" text-anchor="middle" transform="translate(728.8,811.2) rotate(-18.2)" y="7.5">x</text>
</g>
<use href="#frontL" x="986"/>
<g opacity=".999"><text class="l" text-anchor="middle" transform="translate(965,437.7) rotate(-90)" y="7.5">z</text>
<text class="ti" text-anchor="middle" transform="translate(506.9,77.5) scale(1,1.07)">Absorption</text>
<text class="ti" text-anchor="middle" transform="translate(1492.9,77.5) scale(1,1.07)">Maximum Intensity Projection</text></g>
</svg>
</body></html>
